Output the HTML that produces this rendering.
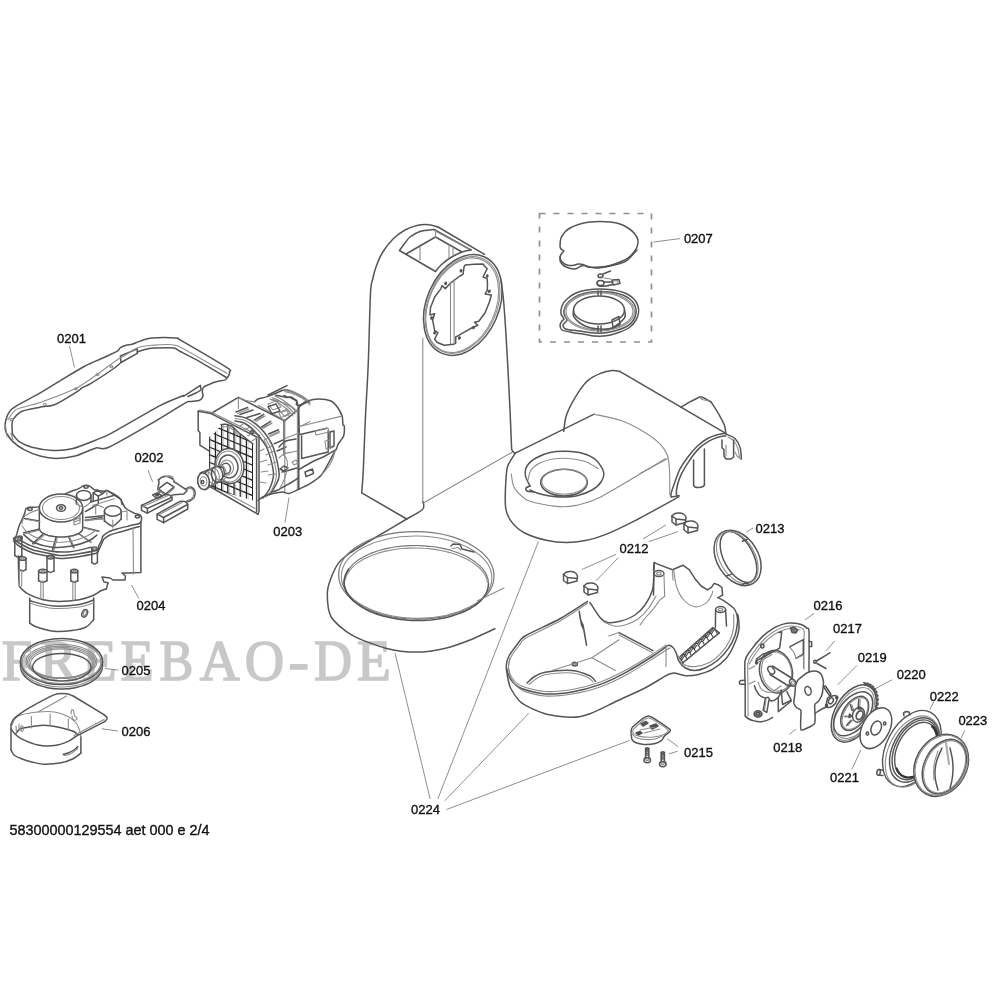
<!DOCTYPE html>
<html><head><meta charset="utf-8">
<style>
html,body{margin:0;padding:0;background:#fff;width:1000px;height:1000px;overflow:hidden}
svg{display:block;will-change:transform}
.lb{font-family:"Liberation Sans",sans-serif;font-size:13px;fill:#111;stroke:#111;stroke-width:0.35}
.wm{font-family:"Liberation Serif",serif;font-size:58px;fill:#c8c8c8;stroke:#c8c8c8;stroke-width:1.6;stroke-linejoin:miter}
.s{fill:none;stroke:#555;stroke-width:1.5;stroke-linejoin:round;stroke-linecap:round}
.t{fill:none;stroke:#8c8c8c;stroke-width:1.1;stroke-linejoin:round;stroke-linecap:round}
.k{fill:#333;stroke:none}
.ld{fill:none;stroke:#6a6a6a;stroke-width:0.75}
.dash{fill:none;stroke:#8f8f8f;stroke-width:1.7;stroke-dasharray:6 8}
</style></head><body>
<svg width="1000" height="1000" viewBox="0 0 1000 1000">

<g id="wm">
<text class="wm" transform="translate(1.8,680.3) scale(0.943,1)">F</text>
<text class="wm" transform="translate(40.1,680.3) scale(0.947,1)">R</text>
<text class="wm" transform="translate(82.0,680.3) scale(0.981,1)">E</text>
<text class="wm" transform="translate(120.5,680.3) scale(0.938,1)">E</text>
<text class="wm" transform="translate(159.6,680.3) scale(0.875,1)">B</text>
<text class="wm" transform="translate(199.7,680.3) scale(0.952,1)">A</text>
<text class="wm" transform="translate(244.7,680.3) scale(0.942,1)">O</text>
<text class="wm" transform="translate(288.5,680.3) scale(1.059,1)">-</text>
<text class="wm" transform="translate(314.1,680.3) scale(0.908,1)">D</text>
<text class="wm" transform="translate(357.0,680.3) scale(0.956,1)">E</text>
</g>
<g id="parts">
<g id="gasket">
<path d="M5.2 428.8 C5.3 430.6 5.4 431.3 6.4 433 C7.4 434.7 10.5 439.4 12.8 441.6 C15.1 443.8 20.4 447.7 24 449.6 C27.6 451.5 35.7 454.8 40 456 C44.3 457.2 51.3 458.4 56 458.4 C60.7 458.4 69.9 457.4 75.2 456 C80.5 454.6 91.5 449.2 96 448 C100.5 446.8 100.3 451.1 108.8 447.2 C117.3 443.3 149.8 424.3 160 418.4 C170.2 412.5 181.3 405.1 185.4 402.8 C189.5 400.5 188.7 401.8 190.6 401.5 C192.5 401.2 198 400.9 199.7 400.2 C201.4 399.5 202.7 397.5 203 396.3 C203.3 395.1 202.2 392.3 202.3 391.1 C202.4 389.9 202.7 388.1 203.6 387.2 C204.5 386.3 207.2 385.3 208.8 384.6 C210.4 383.9 213.2 382.6 215.3 382 C217.4 381.4 222.9 380.5 224.4 380.1 C225.9 379.7 225.8 379.5 226.4 378.8 C227 378.1 228.6 375.9 229 374.9 C229.4 373.9 229.7 372.6 229.4 371.6 C229.1 370.6 233.5 371.9 227 367.7 C220.5 363.5 187.7 344.3 180.9 340.4 C174.1 336.5 180.2 338.4 176.3 338.1 C172.4 337.8 156.5 337.7 151.6 338.1 C146.7 338.5 142.5 340.3 139.9 341.1 C137.3 341.9 133.8 343.8 132.1 344.3 C130.4 344.8 128.5 344.6 126.9 345 C125.3 345.4 121.6 346.8 120.4 347.6 C119.2 348.4 119.2 349.9 117.8 350.8 C116.4 351.7 113.6 353 110 354.7 C106.4 356.4 94.6 361.6 91 363.2 C87.4 364.8 87 364.8 83.2 367 C79.4 369.2 68.3 375.8 62.4 379.4 C56.5 383 44.7 390.4 39 393.7 C33.3 397 23.3 401.8 19.5 404.1 C15.7 406.4 12.2 408.5 10.4 410.6 C8.6 412.7 6.6 417.3 5.9 419.7 C5.2 422.1 5.1 427 5.2 428.8Z" class="s"/>
<path d="M12 433.6 C13 434.7 16.5 439.8 19.2 441.6 C21.9 443.4 27.5 446 32 447.2 C36.5 448.4 47.5 450.2 52.8 450.4 C58.1 450.6 66.2 450.2 72 448.8 C77.8 447.4 90.7 442.1 96 440 C101.3 437.9 103.5 437.4 112 432.8 C120.5 428.2 150.5 410.6 160 405.6 C169.5 400.6 180.4 396.8 183.5 395.5" class="s"/>
<path d="M183.5 396.3 L200.4 385.3 L201 389.8 L197 392.5 L188 396.5" class="s"/>
<path d="M12.5 434 C12.4 432.9 11.9 427.9 12 426 C12.1 424.1 11.7 421.7 13 419.7 C14.3 417.7 18.6 412.9 22.1 411.3 C25.6 409.7 35 408.2 39 407.4 C43 406.6 49.4 406 52 405.4 C54.6 404.8 55 404.7 58.5 402.8 C62 400.9 74.9 393.1 78 391.1 C81.1 389.1 80.2 388.9 81.9 387.9 C83.6 386.9 86.8 385.8 91 383.3 C95.2 380.8 109.1 371.8 113.1 369 C117.1 366.2 119.9 363.4 121 362.5" class="s"/>
<path d="M121 362.5 L120.4 356 L137.3 348.9 L137.3 353.4Z" class="s"/>
<path d="M137.3 352 C138.9 351.5 146.6 349.1 149 348.6 C151.4 348.1 151.7 348.1 155 348 C158.3 347.9 170.2 347.5 173.6 348 C177 348.5 176.7 349.7 180.2 351.5 C183.7 353.3 193.8 358.3 200 361.8 C206.2 365.3 222.9 375.4 226.4 377.5" class="s"/>
<path d="M7.8 419.7 C8.9 418.4 12.8 411.6 16 409.6 C19.2 407.6 28.9 405.7 32 404.8 C35.1 403.9 32.9 405.1 39 402.8 C45.1 400.5 67.6 392.9 78 387.2 C88.4 381.5 110.7 364.2 117 360 C123.3 355.8 122.3 357 125 355.4 C127.7 353.8 133.4 349.3 137 348 C140.6 346.7 146.9 345.7 152 345.3 C157.1 344.9 169 343.6 175.4 345.3 C181.8 347 193.1 354.4 200 358.2 C206.9 362 223.4 371.5 227 373.5" class="t"/>
<path d="M5.5 425 L7 437" class="t"/>
<path d="M11 433 L13 440" class="t"/>
<ellipse cx="44.9" cy="404.4" rx="1.4" ry="1.1" class="t"/>
<ellipse cx="75.8" cy="388.8" rx="1.4" ry="1.1" class="t"/>
<ellipse cx="97.5" cy="374.6" rx="1.4" ry="1.1" class="t"/>
<ellipse cx="111.4" cy="366.7" rx="1.4" ry="1.1" class="t"/>
<ellipse cx="11.4" cy="419.7" rx="1.4" ry="1.1" class="t"/>
</g>
<g id="gearbox">
<path d="M13.4 538.8 C13.1 538 15.5 537.5 16.2 536 C16.9 534.5 18 528.8 19 526.2 C20 523.6 23.8 515.6 24.6 513.6 C25.4 511.6 25.3 509.4 26 508.7 C26.7 508 28.6 507.5 30.2 507.3 C31.8 507.1 36.4 507.6 39.3 506.6 C42.2 505.6 51.7 500.6 55 499 C58.3 497.4 65.2 493.8 68 492.6 C70.8 491.4 77.4 489.2 79.2 488.4 C81 487.6 82.3 485.9 83.4 485.6 C84.5 485.3 87.7 485.1 89 485.6 C90.3 486.1 93 489.1 94.6 489.8 C96.2 490.5 101.4 491 103 491.2 C104.6 491.4 106.6 490.4 108.6 491.2 C110.6 492 117.8 496.2 119.8 498.2 C121.8 500.2 123.6 506.2 125.4 508 C127.2 509.8 133.6 512.8 135.3 513.6 C137 514.4 139.5 514.3 140.2 515 C140.9 515.7 141.7 518.2 141.6 519.2 C141.5 520.2 140.4 522.7 139.5 523.4 C138.6 524.1 136.4 524.1 133.8 524.8 C131.2 525.5 119.9 528.2 117 529 C114.1 529.8 110.2 531 108.6 531.8 C107 532.6 103.8 535 103 536 C102.2 537 102.1 539.1 101.6 540.2 C101.1 541.3 99.3 544.7 98.8 545.8 C98.3 546.9 99.6 549.1 97.4 550 C95.2 550.9 84.2 552.8 80 553.5 C75.8 554.2 64.5 555.6 61 555.6 C57.5 555.6 53.1 554.2 49.8 553.5 C46.5 552.8 36.6 551.2 33 550 C29.4 548.8 21.3 544.3 19 543 C16.7 541.7 13.7 539.6 13.4 538.8Z" class="s"/>
<path d="M13.4 541 C14.1 541.7 16.4 544.4 19 546 C21.6 547.6 28.9 551.6 33 553 C37.1 554.4 46.1 555.8 49.8 556.5 C53.5 557.2 57 558.6 61 558.6 C65 558.6 75.1 557.2 80 556.5 C84.9 555.8 95.1 553.5 97.4 553" class="s"/>
<path d="M97.4 553 C98 551.8 100.7 545.9 101.6 544 C102.5 542.1 102.9 540.2 104 539 C105.1 537.8 107.9 535.9 110 535 C112.1 534.1 116.8 532.9 120 532 C123.2 531.1 131.2 528.7 133.8 528 C136.4 527.3 138.7 526.6 139.5 526.4" class="s"/>
<path d="M18.3 556 L18.8 580 L19.5 586.4" class="s"/>
<path d="M19.5 586.4 C19.8 586.7 20.4 587.9 21.6 589 C22.8 590.1 25.9 593 28.8 594.4 C31.7 595.8 39.1 598.8 43.2 599.8 C47.3 600.8 54.7 601.6 59.5 601.6 C64.3 601.6 74.7 600.6 79.3 599.8 C83.9 599 90.8 596.5 93.7 595.3 C96.6 594.1 99.2 591.6 100.9 590.8 C102.6 590 105.6 589.2 106.3 589" class="s"/>
<path d="M106.3 589 L108.1 582.7 L104 582 L102 577 L110 578 L113 580 L125 580 L125.4 576 L122 573 L127 573 L140.9 572.4 L140.9 522" class="s"/>
<path d="M133 528 L133.5 574" class="t"/>
<path d="M29.7 598 L29.7 623.2" class="s"/>
<path d="M93.7 598 L93.7 619.6" class="s"/>
<path d="M29.7 623.2 C30.5 623.7 32.8 625.7 36 626.8 C39.2 627.9 49.2 630.8 54 631.3 C58.8 631.8 67.7 631.1 72 630.5 C76.3 629.9 83.5 628.3 86.4 626.8 C89.3 625.3 92.7 620.6 93.7 619.6" class="s"/>
<path d="M29.7 600 C30.1 600.2 29.2 600.8 32.4 601.6 C35.6 602.4 47.7 605.6 54 606 C60.3 606.4 74 605.3 79.3 604.5 C84.6 603.7 91.8 600.6 93.7 600" class="s"/>
<path d="M30 603 C31.3 603.4 36.8 605.3 40 606 C43.2 606.7 48.8 608.4 54 608.5 C59.2 608.6 74 607.7 79.3 607 C84.6 606.3 91.8 603.5 93.7 603" class="t"/>
<ellipse cx="84.7" cy="613.3" rx="2.6" ry="4" transform="rotate(25 84.7 613.3)" class="s"/>
<ellipse cx="84.9" cy="613.1" rx="1.4" ry="2.6" transform="rotate(25 84.9 613.1)" class="t"/>
<path d="M39.3 508 A21.7 14 0 0 1 82.7 508 L82.7 528.5 A21.7 8.5 0 0 1 39.3 528.5 Z" style="fill:#fff;stroke:none"/>
<ellipse cx="61" cy="508" rx="21.7" ry="14" class="s"/>
<ellipse cx="61" cy="508" rx="18.5" ry="11.5" class="t"/>
<path d="M39.3 508 L39.3 530" class="s"/>
<path d="M82.7 508 L82.7 528" class="s"/>
<path d="M82.7 528.5 C82.7 528.7 82.6 529.4 82.4 529.8 C82.3 530.3 82 530.7 81.6 531.1 C81.3 531.5 80.8 532 80.3 532.4 C79.8 532.8 79.2 533.1 78.6 533.5 C77.9 533.9 77.1 534.2 76.3 534.5 C75.5 534.8 74.7 535.1 73.8 535.4 C72.8 535.6 71.9 535.9 70.9 536.1 C69.8 536.3 68.8 536.4 67.7 536.6 C66.6 536.7 65.5 536.8 64.4 536.9 C63.3 537 62.1 537 61 537 C59.9 537 58.7 537 57.6 536.9 C56.5 536.8 55.4 536.7 54.3 536.6 C53.2 536.4 52.2 536.3 51.1 536.1 C50.1 535.9 49.2 535.6 48.2 535.4 C47.3 535.1 46.5 534.8 45.7 534.5 C44.9 534.2 44.1 533.9 43.4 533.5 C42.8 533.1 42.2 532.8 41.7 532.4 C41.2 532 40.7 531.5 40.4 531.1 C40 530.7 39.7 530.3 39.6 529.8 C39.4 529.4 39.3 528.7 39.3 528.5" class="s"/>
<ellipse cx="61" cy="508" rx="4.5" ry="3.3" class="s"/>
<ellipse cx="61" cy="508" rx="1.8" ry="1.3" class="s"/>
<path d="M74 518 L80 516 L80 523 L74 525 L74 518" class="t"/>
<path d="M74 520 L80 518 L80 520 L74 522" class="t"/>
<path d="M39 521 L24.6 518.4" class="s"/>
<path d="M40.2 521.8 L25.8 519.2" class="t"/>
<path d="M39 529.2 L23.7 532.8" class="s"/>
<path d="M40.2 530 L24.9 533.6" class="t"/>
<path d="M42.6 534.6 L32.7 543.6" class="s"/>
<path d="M43.8 535.4 L33.9 544.4" class="t"/>
<path d="M56.1 537.3 L52.5 550" class="s"/>
<path d="M57.3 538.1 L53.7 550.8" class="t"/>
<path d="M68.8 537.3 L73.3 547.2" class="s"/>
<path d="M70 538.1 L74.5 548" class="t"/>
<path d="M78.7 533.7 L90.4 541.8" class="s"/>
<path d="M79.9 534.5 L91.6 542.6" class="t"/>
<path d="M84 527.4 L98.5 531" class="s"/>
<path d="M85.2 528.2 L99.7 531.8" class="t"/>
<path d="M85 520.2 L102 517.5" class="s"/>
<path d="M86.2 521 L103.2 518.3" class="t"/>
<path d="M23.7 534.6 C25.5 536 29.7 540.6 34.5 542.7 C39.3 544.8 46.5 546.6 52.5 547.2 C58.5 547.8 64.5 547.3 70.5 546.3 C76.5 545.3 84.1 542.9 88.5 541 C92.9 539.1 95.6 536 97 535" class="s"/>
<path d="M22 526 C23 527.2 25 530.8 28 533 C31 535.2 35.5 537.5 40 539 C44.5 540.5 50 541.6 55 542 C60 542.4 65 542.3 70 541.5 C75 540.7 80.8 538.8 85 537 C89.2 535.2 93.3 532 95 531" class="t"/>
<path d="M17.4 538.2 C19.5 539.4 24.6 543.3 30 545.4 C35.4 547.5 43.2 549.8 49.8 550.9 C56.4 552 62.8 552.4 69.7 551.8 C76.6 551.2 87.7 548 91.3 547.2" class="s"/>
<path d="M21.9 523.8 C22.2 522.8 22.9 519 23.7 517.5 C24.4 516 24.8 516 26.4 515 C27.9 514 31.1 512.3 33 511.5 C34.9 510.7 37.2 510.2 38 510" class="t"/>
<ellipse cx="83.7" cy="495.4" rx="7.3" ry="5" class="s"/>
<path d="M76.4 495.4 L76.4 504" class="s"/>
<path d="M91 495.4 L91 502" class="s"/>
<path d="M76.4 504 C77.4 504.4 81.8 507.3 83.7 507 C85.6 506.7 90 502.7 91 502" class="t"/>
<ellipse cx="112.8" cy="511" rx="8.4" ry="5.2" class="s"/>
<path d="M104.4 511 L104.4 521" class="s"/>
<path d="M121.2 511 L121.2 519" class="s"/>
<path d="M104.4 521 C105.5 521.7 110.6 526.3 112.8 526 C115 525.7 120.1 519.9 121.2 519" class="s"/>
<path d="M112.8 520 L112.8 528" class="t"/>
<path d="M93.2 492.8 L97.4 490.2 L102.5 493.6 L98.3 496.2Z" class="s"/>
<path d="M93.2 492.8 L93.2 501.3" class="s"/>
<path d="M98.3 496.2 L98.3 503.8" class="s"/>
<path d="M90.6 502.1 L114.4 495.3" class="s"/>
<path d="M92.3 505.5 L114.4 498.7" class="t"/>
<path d="M102.5 493.6 L106.8 490.2 L121.2 499.6 L122 504.7" class="s"/>
<path d="M106.8 490.2 L106.8 495" class="t"/>
<path d="M85.5 511.5 L97.4 504.7" class="s"/>
<path d="M85.5 517.4 L103.4 515.7" class="s"/>
<path d="M85.5 520 L103.4 519.1" class="t"/>
<path d="M95.7 505.5 L95.7 514" class="t"/>
<path d="M97.4 504.7 L103.4 507.5" class="t"/>
<path d="M121.2 512 L127 511 L127 520" class="t"/>
<ellipse cx="86" cy="486.8" rx="2.2" ry="1.4" class="s"/>
<ellipse cx="137.4" cy="516.6" rx="2.2" ry="1.4" class="s"/>
<ellipse cx="20" cy="537.5" rx="2.2" ry="1.4" class="s"/>
<ellipse cx="30" cy="509" rx="2.2" ry="1.4" class="s"/>
<ellipse cx="18.3" cy="538.9" rx="3.5" ry="1.8" class="s"/>
<ellipse cx="18.3" cy="538.9" rx="1.6" ry="0.8" class="t"/>
<path d="M14.8 538.9 L14.8 555.6" class="s"/>
<path d="M21.8 538.9 L21.8 555.6" class="s"/>
<path d="M14.8 555.6 C15.4 555.9 17.1 557.1 18.3 557.1 C19.5 557.1 21.2 555.9 21.8 555.6" class="s"/>
<ellipse cx="22.5" cy="558.5" rx="3.5" ry="1.8" class="s"/>
<ellipse cx="22.5" cy="558.5" rx="1.6" ry="0.8" class="t"/>
<path d="M19 558.5 L19 569.6" class="s"/>
<path d="M26 558.5 L26 569.6" class="s"/>
<path d="M19 569.6 C19.6 569.9 21.3 571.1 22.5 571.1 C23.7 571.1 25.4 569.9 26 569.6" class="s"/>
<ellipse cx="42.8" cy="571.1" rx="4.2" ry="1.8" class="s"/>
<ellipse cx="42.8" cy="571.1" rx="1.9" ry="0.8" class="t"/>
<path d="M38.6 571.1 L38.6 580.8" class="s"/>
<path d="M47 571.1 L47 580.8" class="s"/>
<path d="M38.6 580.8 C39.3 581 41.4 582.3 42.8 582.3 C44.2 582.3 46.3 581 47 580.8" class="s"/>
<ellipse cx="74.3" cy="571.1" rx="3.5" ry="1.8" class="s"/>
<ellipse cx="74.3" cy="571.1" rx="1.6" ry="0.8" class="t"/>
<path d="M70.8 571.1 L70.8 580.8" class="s"/>
<path d="M77.8 571.1 L77.8 580.8" class="s"/>
<path d="M70.8 580.8 C71.4 581 73.1 582.3 74.3 582.3 C75.5 582.3 77.2 581 77.8 580.8" class="s"/>
<ellipse cx="50.5" cy="557.1" rx="3.5" ry="1.8" class="s"/>
<ellipse cx="50.5" cy="557.1" rx="1.6" ry="0.8" class="t"/>
<path d="M47 557.1 L47 571" class="s"/>
<path d="M54 557.1 L54 571" class="s"/>
<path d="M47 571 C47.6 571.2 49.3 572.5 50.5 572.5 C51.7 572.5 53.4 571.2 54 571" class="s"/>
<ellipse cx="94.6" cy="548.7" rx="2.8" ry="1.8" class="s"/>
<ellipse cx="94.6" cy="548.7" rx="1.3" ry="0.8" class="t"/>
<path d="M91.8 548.7 L91.8 562.6" class="s"/>
<path d="M97.4 548.7 L97.4 562.6" class="s"/>
<path d="M91.8 562.6 C92.3 562.9 93.7 564.1 94.6 564.1 C95.5 564.1 96.9 562.9 97.4 562.6" class="s"/>
<path d="M19.3 569.6 L19.3 586" class="t"/>
<path d="M21.7 569.6 L21.7 586" class="t"/>
<path d="M40.8 580.8 L40.8 598.5" class="t"/>
<path d="M43.2 580.8 L43.2 598.5" class="t"/>
<path d="M72.8 580.8 L72.8 600" class="t"/>
<path d="M75.2 580.8 L75.2 600" class="t"/>
</g>
<g id="ring205">
<ellipse cx="61.5" cy="661.5" rx="41" ry="23" class="s"/>
<ellipse cx="61.5" cy="662" rx="39.5" ry="21.5" class="t"/>
<path d="M102.5 666 C102.4 666.5 102.4 668 102.1 669 C101.9 670 101.6 671 101.1 672 C100.6 672.9 100.1 673.9 99.4 674.8 C98.7 675.7 97.9 676.6 97 677.5 C96.1 678.4 95.1 679.2 94 680 C92.9 680.8 91.8 681.6 90.5 682.3 C89.2 683 87.9 683.6 86.5 684.2 C85 684.9 83.5 685.4 82 685.9 C80.5 686.4 78.8 686.9 77.2 687.2 C75.5 687.6 73.8 688 72.1 688.2 C70.4 688.5 68.6 688.7 66.9 688.8 C65.1 688.9 63.3 689 61.5 689 C59.7 689 57.9 688.9 56.1 688.8 C54.4 688.7 52.6 688.5 50.9 688.2 C49.2 688 47.5 687.6 45.8 687.2 C44.2 686.9 42.5 686.4 41 685.9 C39.5 685.4 38 684.9 36.5 684.2 C35.1 683.6 33.8 683 32.5 682.3 C31.2 681.6 30.1 680.8 29 680 C27.9 679.2 26.9 678.4 26 677.5 C25.1 676.6 24.3 675.7 23.6 674.8 C22.9 673.9 22.4 672.9 21.9 672 C21.4 671 21.1 670 20.9 669 C20.6 668 20.6 666.5 20.5 666" class="s"/>
<path d="M102.3 666 C102.2 666.5 101.9 667.9 101.6 668.8 C101.2 669.7 100.8 670.7 100.2 671.6 C99.7 672.4 99 673.3 98.3 674.2 C97.5 675 96.7 675.8 95.8 676.6 C94.8 677.4 93.8 678.2 92.7 678.9 C91.6 679.6 90.4 680.3 89.2 681 C88 681.6 86.6 682.2 85.3 682.7 C83.9 683.3 82.4 683.8 81 684.2 C79.5 684.7 77.9 685.1 76.4 685.4 C74.8 685.8 73.2 686.1 71.5 686.3 C69.9 686.5 68.2 686.7 66.6 686.8 C64.9 686.9 63.2 687 61.5 687 C59.8 687 58.1 686.9 56.4 686.8 C54.8 686.7 53.1 686.5 51.5 686.3 C49.8 686.1 48.2 685.8 46.6 685.4 C45.1 685.1 43.5 684.7 42 684.2 C40.6 683.8 39.1 683.3 37.7 682.7 C36.4 682.2 35 681.6 33.8 681 C32.6 680.3 31.4 679.6 30.3 678.9 C29.2 678.2 28.2 677.4 27.2 676.6 C26.3 675.8 25.5 675 24.7 674.2 C24 673.3 23.3 672.4 22.8 671.6 C22.2 670.7 21.8 669.7 21.4 668.8 C21.1 667.9 20.8 666.5 20.7 666" class="t"/>
<path d="M20.5 661.5 L20.5 666" class="s"/>
<path d="M102.5 661.5 L102.5 666" class="s"/>
<ellipse cx="61.5" cy="661.5" rx="35.5" ry="17" class="t"/>
<ellipse cx="61.5" cy="662.1" rx="34" ry="16" class="t"/>
<ellipse cx="61.5" cy="662.7" rx="32.5" ry="15.2" class="t"/>
<ellipse cx="61.5" cy="663.5" rx="31" ry="14.6" class="t"/>
<ellipse cx="61.8" cy="667.2" rx="29.2" ry="13.8" class="s"/>
</g>
<g id="guard206">
<path d="M11 724.6 L11 750" class="s"/>
<path d="M80.9 736.7 L80.9 753.2" class="s"/>
<path d="M11 750 C11.4 750.7 12.6 753.8 14 755 C15.4 756.2 19.1 757.8 21.5 758.7 C23.9 759.6 29.1 761.3 32 762 C34.9 762.7 39.8 764.1 43.5 764.2 C47.2 764.3 56 763.8 60 763.1 C64 762.4 70.4 760 73.2 758.7 C76 757.4 79.9 753.9 80.9 753.2" class="s"/>
<path d="M11 729 C11.5 729.7 13.6 732.7 15 734 C16.4 735.3 18.4 737.4 21.5 738.9 C24.6 740.4 33.6 744.1 38 745 C42.4 745.9 50.4 746 54.5 745.5 C58.6 745 66 742.3 68.8 741.1 C71.6 739.9 74.5 737.3 75.4 736.7" class="s"/>
<path d="M16 733.4 C16.5 732.8 18.5 729.8 20 729 C21.5 728.2 23.9 727.9 27 727.4 C30.1 726.9 39.1 725.2 43.5 725.2 C47.9 725.2 56 726.6 60 727.4 C64 728.2 70.9 730.3 73.2 731.2 C75.5 732.1 77 734.1 77.6 734.5" class="s"/>
<path d="M11.6 725.7 C12.1 724.8 13.7 720.5 15 719 C16.3 717.5 18.4 715.6 21.5 714.7 C24.6 713.8 33.6 712.4 38 712 C42.4 711.6 50.4 711.3 54.5 712 C58.6 712.7 65.9 715.4 68.8 716.9 C71.7 718.4 75 721.6 76.5 723.5 C78 725.4 79.2 729.4 79.8 731.2 C80.4 733 80.8 736 80.9 736.7" class="t"/>
<path d="M11 724.6 C11.3 724 12.3 721 13 720 C13.7 719 14.1 718.3 16 716.9 C17.9 715.5 22.6 711.8 27 709.2 C31.4 706.6 44.9 699.2 49 697.1 C53.1 695 55.5 694.2 57.8 693.8 C60.1 693.4 64.5 693.5 66.6 693.8 C68.7 694.1 72.3 695.7 73.2 696" class="s"/>
<path d="M73.2 696 L104 714.7" class="s"/>
<path d="M104 714.7 C104.5 715.2 107.1 716.9 107.3 718 C107.5 719.1 105.5 720.8 105.1 721.3" class="s"/>
<path d="M105.1 721.3 L75.4 736.7" class="s"/>
<path d="M104 719.5 L74 735.5" class="t"/>
<path d="M38 712 L66.6 696" class="t"/>
<path d="M63.3 754.3 C64.1 754.1 66.2 753.7 68 753 C69.8 752.3 72.4 751.1 74 750 C75.6 748.9 77 747.2 77.6 746.6" class="s"/>
<path d="M64 755.5 C65 755.2 68 754.9 70 754 C72 753.1 74.7 751 76 750 C77.3 749 77.7 748.3 78 748" class="t"/>
<path d="M31.4 716.5 L31.4 728" class="t"/>
<path d="M50.1 714 L50.1 726" class="t"/>
<path d="M68.3 719 L68.3 730" class="t"/>
<path d="M71 714 C71.1 713.4 71.2 711.2 71.5 710.5 C71.8 709.8 72.6 709.6 73 710 C73.4 710.4 73.8 712 74 713 C74.2 714 74 715.2 74.5 716 C75 716.8 76.8 717.3 77 718 C77.2 718.7 76.7 719.8 76 720 C75.3 720.2 73.7 720.2 73 719.5 C72.3 718.8 72.2 716.6 72 716" class="t"/>
<path d="M16 726 L16.5 733" class="t"/>
<ellipse cx="22" cy="728.5" rx="1.4" ry="2.8" class="t"/>
<path d="M19 724 L19 730" class="t"/>
</g>
<g id="motor">
<path d="M211 413.5 L238.4 397.3 L284 420.7 L284 455" class="s"/>
<path d="M238.4 397.3 L238.4 408.5" class="t"/>
<path d="M198.2 411.3 L198.2 430.5 L199.9 432.6 L199.9 445.2 L209 450.8" class="s"/>
<path d="M198.2 411.3 L200 410 L211.5 412.3 L259 435.5" class="t"/>
<path d="M198.2 411.3 L211.1 413.6 L256.6 437" class="s"/>
<path d="M256.6 436.8 L256.6 512" class="s"/>
<path d="M259 435.2 L259 511.5 L258 514.3" class="s"/>
<path d="M209 486 L258 514.3" class="s"/>
<path d="M211 484.5 L255 508.5" class="t"/>
<clipPath id="gclip"><path d="M209 437 L215 432.5 L221 424.5 L226 424.3 L232 426.5 L238 432 L246 438.5 L253 444 L253 500.5 L209 487.5 Z"/></clipPath>
<path d="M209.2 420 L209.2 510 M215.4 420 L215.4 510 M221.6 420 L221.6 510 M227.8 420 L227.8 510 M234.0 420 L234.0 510 M240.2 420 L240.2 510 M246.4 420 L246.4 510 M252.6 420 L252.6 510 M205 414.8 L256 436.2 M205 422.4 L256 443.8 M205 430.0 L256 451.4 M205 437.6 L256 459.0 M205 445.2 L256 466.6 M205 452.8 L256 474.2 M205 460.4 L256 481.8 M205 468.0 L256 489.4 M205 475.6 L256 497.0 M205 483.2 L256 504.6 M205 490.8 L256 512.2 M205 498.4 L256 519.8 M205 506.0 L256 527.4 M205 513.6 L256 535.0" fill="none" stroke="#222" stroke-width="1.25" clip-path="url(#gclip)"/>
<path d="M210.8 420 L210.8 510 M217.0 420 L217.0 510 M223.2 420 L223.2 510 M229.4 420 L229.4 510 M235.6 420 L235.6 510 M241.8 420 L241.8 510 M248.0 420 L248.0 510 M254.2 420 L254.2 510" fill="none" stroke="#999" stroke-width="0.6" clip-path="url(#gclip)"/>
<path d="M221 424.5 C221.8 424.5 224.2 424 226 424.3 C227.8 424.6 230 425.2 232 426.5 C234 427.8 235.7 430 238 432 C240.3 434 243.5 436.5 246 438.5 C248.5 440.5 251.8 443.1 253 444" class="s"/>
<path d="M221.5 427 C222.2 427 224.2 426.5 226 426.8 C227.8 427.1 230 427.7 232 429 C234 430.3 237 433.6 238 434.5" class="t"/>
<ellipse cx="229.5" cy="466" rx="14.3" ry="17.6" transform="rotate(-10 229.5 466)" class="s" style="fill:#fff"/>
<ellipse cx="229" cy="466.5" rx="12.5" ry="15.5" transform="rotate(-10 229 466.5)" class="t"/>
<ellipse cx="228.5" cy="466.5" rx="9.5" ry="11.5" transform="rotate(-10 228.5 466.5)" class="s" style="fill:#fff"/>
<ellipse cx="227" cy="467.5" rx="6.5" ry="7.5" transform="rotate(-10 227 467.5)" class="t"/>
<ellipse cx="226" cy="468.5" rx="4.5" ry="5.2" transform="rotate(-10 226 468.5)" class="s" style="fill:#fff"/>
<path d="M200.3 473 L217.5 466.3 L223.5 468 L224.5 474 L222 479 L205.5 489.5Z" class="s" style="fill:#fff"/>
<ellipse cx="203.5" cy="481.3" rx="5.6" ry="8.2" transform="rotate(-8 203.5 481.3)" class="s" style="fill:#fff"/>
<ellipse cx="206.9" cy="479.6" rx="5.6" ry="8.2" transform="rotate(-8 206.9 479.6)" class="t"/>
<ellipse cx="210.3" cy="477.9" rx="5.6" ry="8.2" transform="rotate(-8 210.3 477.9)" class="s"/>
<ellipse cx="213.7" cy="476.2" rx="5.6" ry="8.2" transform="rotate(-8 213.7 476.2)" class="t"/>
<ellipse cx="217.1" cy="474.5" rx="5.6" ry="8.2" transform="rotate(-8 217.1 474.5)" class="s"/>
<ellipse cx="220.5" cy="472.8" rx="5.6" ry="8.2" transform="rotate(-8 220.5 472.8)" class="t"/>
<ellipse cx="203.5" cy="481.3" rx="5.8" ry="8.3" transform="rotate(-8 203.5 481.3)" class="s" style="fill:#fff"/>
<ellipse cx="202.5" cy="482" rx="1.3" ry="1.6" class="s"/>
<ellipse cx="203.5" cy="481.3" rx="3.3" ry="4.6" transform="rotate(-8 203.5 481.3)" class="t"/>
<path d="M236 412 L247.6 407.5" class="s"/>
<path d="M240 414.5 L253 410" class="s"/>
<path d="M247 417.5 L260 413.5" class="s"/>
<path d="M254.6 420 L263.7 414.4" class="s"/>
<path d="M261.6 427 L270.7 421.4" class="s"/>
<path d="M268.6 434 L278.4 429.8" class="s"/>
<path d="M274.2 443.8 L284 439.6" class="s"/>
<path d="M277 451 L286 447" class="s"/>
<path d="M237.5 413.5 L249 409" class="t"/>
<path d="M256 421.5 L265 416" class="t"/>
<path d="M263 428.5 L272 423" class="t"/>
<path d="M270 435.5 L279.5 431.3" class="t"/>
<path d="M235 415.8 C236.8 416.1 242 416.5 245.5 417.9 C249 419.3 252.8 421.8 256 424.2 C259.1 426.6 261.8 429.5 264.4 432.6 C267 435.8 269.5 439.4 271.4 443.1 C273.3 446.8 274.3 449.6 275.6 455 C276.9 460.4 279.3 470 279.2 475.2 C279.1 480.4 276.6 483.1 275 486.4 C273.4 489.7 270.3 493.4 269.4 494.8" class="s"/>
<path d="M235 418.5 C236.7 418.8 241.7 419.1 245 420.5 C248.3 421.9 252.1 424.6 255 427 C257.9 429.4 260.2 432 262.5 435 C264.8 438 267.2 441.5 269 445 C270.8 448.5 271.8 451 273 456 C274.2 461 276.5 469.7 276.4 475.2 C276.3 480.7 273.9 485.6 272.2 489.2 C270.5 492.8 267 495.7 266 497" class="t"/>
<path d="M235 421 C236.5 421.3 241 421.6 244 423 C247 424.4 250.3 427.1 253 429.5 C255.7 431.9 257.8 434.6 260 437.5 C262.2 440.4 264.8 443.6 266.5 447 C268.2 450.4 269.3 453.3 270.5 458 C271.7 462.7 273.7 469.8 273.5 475 C273.3 480.2 271.2 485.2 269.5 489 C267.8 492.8 264.1 496.5 263 498" class="s"/>
<path d="M240 426 L244 423.5" class="t"/>
<path d="M243 431 L249 427.5" class="t"/>
<path d="M248 436 L254 432" class="t"/>
<path d="M252 441 L258 437" class="t"/>
<path d="M258 452 L264 449" class="t"/>
<path d="M260 462 L267 460" class="t"/>
<path d="M261 472 L268 471" class="t"/>
<path d="M259 482 L266 483" class="t"/>
<path d="M250 432 L252 430 L254 432 L252 434Z" class="s"/>
<path d="M254.6 401.8 C255.2 401.3 256.1 399.8 258.1 399 C260.1 398.2 263.4 397.9 266.5 396.9 C269.6 395.8 274.1 393.9 277 392.7 C279.9 391.5 281.9 390.2 284 389.9 C286.1 389.5 287.3 389.8 289.6 390.6 C291.9 391.4 295.4 393.4 298 394.8 C300.6 396.2 303.8 398.3 305 399" class="s"/>
<path d="M268 395 L287 385.6" class="s" stroke-width="1.6"/>
<path d="M284 395.5 L288.2 397.6 L291 396.9 L296.6 400.4 L296.6 403.9 L299.4 406 L305 403.2" class="s"/>
<path d="M258.1 405.3 L285.4 420.7" class="t"/>
<path d="M284 421.4 L298 409.5" class="s"/>
<path d="M298 408.1 L299.4 434" class="s"/>
<path d="M270 399 C270.8 399.3 273.3 400.2 275 401 C276.7 401.8 277.8 402.5 280 404 C282.2 405.5 285.8 408 288 410 C290.2 412 292.2 415 293 416" class="t"/>
<path d="M272 397.5 C273 397.9 276 398.9 278 400 C280 401.1 282 402.5 284 404 C286 405.5 288.2 407.3 290 409 C291.8 410.7 294.2 413.2 295 414" class="t"/>
<path d="M275 396 C276 396.5 279 397.8 281 399 C283 400.2 285.2 401.7 287 403 C288.8 404.3 291.2 406.3 292 407" class="t"/>
<path d="M268 404 L276 401 L281 407 L273 410Z" class="t"/>
<path d="M281 412 L287 409 L290 413 L284 416Z" class="t"/>
<path d="M298.8 408 C299.2 407.5 300.9 404.9 302 404 C303.1 403.1 305 401.7 307.2 401 C309.4 400.3 315.2 398.9 318.4 398.9 C321.6 398.9 328.4 399.8 331 401 C333.6 402.2 336.5 405.9 338 408 C339.5 410.1 341.5 414.2 342.2 416.4 C342.9 418.6 342.7 423.5 343 424.8 C343.3 426.1 344.2 424.7 344.3 426.2 C344.4 427.7 344.4 433.6 343.6 436 C342.8 438.4 338.9 442.7 338 444.4 C337.1 446.1 337.2 447.5 336.6 448.6 C336 449.7 334.7 451.1 333.8 452.8 C332.9 454.5 331.3 458.2 329.6 461.2 C327.9 464.2 323.8 472.2 321.2 475.2 C318.6 478.2 313 481.7 310 483.6 C307 485.5 300.3 488.5 298.8 489.2" class="s"/>
<path d="M298.8 408 L298.8 489.2" class="s"/>
<path d="M300.2 426.2 L340.8 416.4" class="t"/>
<path d="M300.2 434.6 L326.8 428.3" class="s"/>
<path d="M301.6 436 L301.6 458.4 L328.2 452 L328.2 430.5" class="s"/>
<path d="M315 431 L328 428 L329 432 L316 435Z" class="t"/>
<path d="M330 432 L334 431 L334 446 L330 448Z" class="s"/>
<path d="M325 441 L330 440 L331 448 L326 449Z" class="t"/>
<path d="M298.8 469.6 C301 468.3 307.6 464.3 312 462 C316.4 459.7 321.1 458 325 456 C328.9 454 333.5 451 335.2 450" class="s"/>
<path d="M335.2 450 C334.8 451.3 334 455.3 333 458 C332 460.7 331 463.1 329 466 C327 468.9 322.5 473.7 321.2 475.2" class="t"/>
<path d="M305 472 L312.5 469 L313.5 473.5 L306 476.6Z" class="s"/>
<path d="M284.8 419.2 L284.8 492" class="t"/>
<path d="M297.4 408 L297.4 489.2" class="t"/>
<path d="M279 447 C279.8 446.2 282.2 443.2 284 442 C285.8 440.8 288 440.5 290 440 C292 439.5 295 439.2 296 439" class="s"/>
<path d="M279 458 C279.8 457.3 281.8 455 284 454 C286.2 453 289.7 452.5 292 452 C294.3 451.5 297 451.2 298 451" class="t"/>
<path d="M280 469 L284 466 L288 468 L284 471Z" class="s"/>
<path d="M292 462 L296 460 L298 463 L294 465Z" class="t"/>
<path d="M282 472 C283.3 471.7 287.5 470.7 290 470 C292.5 469.3 295.8 468.3 297 468" class="s"/>
<path d="M272 492 C273 491.7 275.8 491 278 490 C280.2 489 282.7 487.3 285 486 C287.3 484.7 289.8 483.3 292 482 C294.2 480.7 297 478.7 298 478" class="s"/>
<path d="M268 494.8 C270.3 494.3 278.5 492.2 282 492 C285.5 491.8 286.2 493.9 289 493.4 C291.8 492.9 297.2 489.9 298.8 489.2" class="s"/>
<path d="M258.2 500.4 C258.8 499.9 260.4 498.4 262 497.5 C263.6 496.6 267 495.2 268 494.8" class="s"/>
<path d="M284 455 C284.5 455.8 286.5 457.5 287 460 C287.5 462.5 287.5 466.7 287 470 C286.5 473.3 285.2 477 284 480 C282.8 483 280.7 486.7 280 488" class="t"/>
<path d="M284.8 389.2 C286 389.5 289.3 390 292 391 C294.7 392 298.5 393.8 301 395.2 C303.5 396.6 305.5 398.2 307 399.4 C308.5 400.6 309.5 401.9 310 402.4" class="t"/>
<path d="M284.8 390.4 C286 390.7 289.3 391.2 292 392.2 C294.7 393.2 298.5 395 301 396.4 C303.5 397.8 305.5 399.4 307 400.6 C308.5 401.8 309.5 403.1 310 403.6" class="t"/>
<path d="M284.8 391.6 C286 391.9 289.3 392.4 292 393.4 C294.7 394.4 298.5 396.2 301 397.6 C303.5 399 305.5 400.6 307 401.8 C308.5 403 309.5 404.3 310 404.8" class="t"/>
<path d="M275.8 395.2 L287.2 397.6 L289.6 397 L296.8 401.2 L297.4 403 L296.2 404.2 L298 406 L308.8 401.2" class="s"/>
<path d="M270.4 399.4 C272.2 399.8 277.7 400.9 281 402 C284.3 403.1 287.7 404.5 290 406 C292.3 407.5 294.2 410 295 410.8" class="t"/>
<path d="M271.9 399.7 C273.7 400.2 279.2 401.4 282.5 402.6 C285.8 403.8 289.2 405.3 291.5 406.8 C293.8 408.3 295.4 410.8 296.2 411.6" class="t"/>
<path d="M273.4 400 C275.2 400.5 280.7 401.9 284 403.2 C287.3 404.5 290.8 406.1 293 407.6 C295.2 409.1 296.7 411.6 297.4 412.4" class="t"/>
<path d="M268 406.6 L276 404 L280 411 L272 413.8Z" class="s"/>
<path d="M279 413 L287 410.5 L289 415 L281 417.5Z" class="t"/>
<path d="M299.2 427 L310 421.6" class="t"/>
<path d="M283.6 439 L299 433" class="t"/>
<path d="M254.1 420.6 L263.7 416.4" class="t"/>
<path d="M261.9 427.8 L271.5 423.6" class="t"/>
<path d="M269.7 436.8 L279.3 432.6" class="t"/>
<path d="M266 455 L274 451" class="t"/>
<path d="M268 465 L276 462" class="t"/>
<path d="M268 475 L276 474" class="t"/>
<path d="M264 440 L268 438 L272 446 L268 448Z" class="t"/>
<path d="M240 398 C241 398.4 243.6 399.9 246 400.5 C248.4 401.1 253.2 401.6 254.6 401.8" class="t"/>
</g>
<g id="brushes">
<path d="M158.4 479.8 C159.3 479.2 161.8 476.9 163.6 476.5 C165.4 476.1 167.9 476.6 169.5 477.2 C171.1 477.8 172.7 479.1 173.4 479.8 C174.2 480.6 173.9 481.4 174 481.7" class="s"/>
<path d="M174 481.7 L185 488.9 L187 490.8 L183.8 494 L174 494.7 L171.4 495.4" class="s"/>
<path d="M158.4 479.8 C158.5 480.3 159.1 481.5 159 483 C158.9 484.5 157.7 487.3 157.8 488.9 C157.9 490.5 159.4 492.1 159.7 492.8" class="s"/>
<path d="M158.4 488.9 L166.9 482.4 L174 486.9 L165.6 494 L158.4 488.9" class="s"/>
<path d="M158.4 488.9 L158.6 490.5 L165.6 495.5 L174 488.5 L174 486.9" class="t"/>
<path d="M152.6 495 L157.1 492.8 L162.3 496 L157.1 498.6Z" class="s"/>
<ellipse cx="157.1" cy="494.8" rx="1.4" ry="1.1" class="s" style="fill:#333"/>
<path d="M164.3 477.2 C165.1 477 167.4 475.9 168.8 475.9 C170.2 475.9 171.8 476.3 172.7 477.2 C173.6 478.1 173.8 480.4 174 481" class="t"/>
<path d="M185.7 488.9 C186.5 488.6 188.8 486.6 190.3 486.9 C191.8 487.2 194.2 489.1 194.8 490.8 C195.5 492.5 194.9 495.7 194.2 497.3 C193.4 498.9 191.6 499.8 190.3 500.6 C189 501.4 187.1 501.7 186.4 501.9" class="s"/>
<path d="M186.7 489.6 C187.3 489.4 189.2 487.9 190.3 488.2 C191.4 488.5 193.1 489.8 193.5 491.3 C193.9 492.8 193.6 495.6 193 497 C192.4 498.4 191.1 499 190 499.6 C188.9 500.2 187 500.7 186.4 500.9" class="t"/>
<path d="M141.5 505.4 L166 494 L170.1 495.4 L172 497.3 L172 500 L147.4 513.2 L141.5 510.3Z" class="s"/>
<path d="M141.5 505.4 L147.4 508.4 L172 497.3" class="s"/>
<path d="M147.4 508.4 L147.4 513.2" class="s"/>
<path d="M143 506.5 L168 495.5" class="t"/>
<path d="M157.1 514.2 L180.5 501.2 L185 501.5 L187.7 504 L187.7 509 L163.6 522.7 L157.1 519.4Z" class="s"/>
<path d="M157.1 514.2 L163.6 517.5 L187.7 504.5" class="s"/>
<path d="M163.6 517.5 L163.6 522.7" class="s"/>
<path d="M159 514.8 L182 502.5" class="t"/>
</g>
<g id="column">
<path d="M361.7 492.8 C361.9 489.4 362.8 480.9 363.3 470 C363.8 459.1 364.6 435.8 365.3 420 C366 404.2 367.4 384.1 368.2 365 C369 345.9 369.8 306.1 370.5 293 C371.2 279.9 372.2 281.9 373 278 C373.8 274.1 374.6 270.8 376 267 C377.4 263.2 379.9 256.7 382.5 252.5 C385.1 248.3 389.6 242.4 393 239 C396.4 235.6 401.4 232 405 230 C408.6 228 413.4 226.3 417 225.5 C420.6 224.7 425.9 224.5 429 224.8 C432.1 225 436.6 226.7 438 227" class="s"/>
<path d="M438 227 L484.5 254.3" class="s"/>
<ellipse cx="462.8" cy="304.9" rx="36.1" ry="52.7" transform="rotate(23.9 462.8 304.9)" class="s"/>
<ellipse cx="462.5" cy="305" rx="34.3" ry="50.6" transform="rotate(23.9 462.5 305)" class="t"/>
<ellipse cx="462.2" cy="305.2" rx="33.2" ry="49.5" transform="rotate(23.9 462.2 305.2)" class="t"/>
<path d="M464.1 266.6 L465.2 265 L474 264.2 L483 264 L484 265.5 L487.2 268.7 L483 277 L487.2 278.6 L487.5 285 L487.2 290.7 L485.1 293.9 L491.4 295 L489.3 302.3 L485.1 312.8 L478.8 321.2 L474.6 322.2 L477.8 325.4 L472.5 327.5 L465.2 331.7 L457.8 335.9 L455.7 337 L455.7 343.2 L453.6 344.3 L444.2 345.3 L436.8 342.2 L434.7 339 L437.9 332.7 L434.7 330.6 L432.6 320.1 L434.7 313.8 L430 314.9 L430.5 307.5 L434.7 297 L441 288.6 L442.1 285.5 L445.2 288.6 L451.5 282.3 L459.9 276 L463 274.4Z" class="s"/>
<ellipse cx="461" cy="270.8" rx="0.9" ry="1.3" transform="rotate(20 461 270.8)" class="s" style="fill:#444;stroke-width:1"/>
<ellipse cx="487.2" cy="276" rx="0.9" ry="1.3" transform="rotate(20 487.2 276)" class="s" style="fill:#444;stroke-width:1"/>
<ellipse cx="489.3" cy="291.2" rx="0.9" ry="1.3" transform="rotate(20 489.3 291.2)" class="s" style="fill:#444;stroke-width:1"/>
<ellipse cx="473.6" cy="327.5" rx="0.9" ry="1.3" transform="rotate(20 473.6 327.5)" class="s" style="fill:#444;stroke-width:1"/>
<ellipse cx="459.4" cy="338" rx="0.9" ry="1.3" transform="rotate(20 459.4 338)" class="s" style="fill:#444;stroke-width:1"/>
<ellipse cx="434.7" cy="332.7" rx="0.9" ry="1.3" transform="rotate(20 434.7 332.7)" class="s" style="fill:#444;stroke-width:1"/>
<ellipse cx="431.6" cy="318" rx="0.9" ry="1.3" transform="rotate(20 431.6 318)" class="s" style="fill:#444;stroke-width:1"/>
<ellipse cx="445.7" cy="283.4" rx="0.9" ry="1.3" transform="rotate(20 445.7 283.4)" class="s" style="fill:#444;stroke-width:1"/>
<path d="M399.5 250.5 C400.4 249.2 403.2 245.2 405 243 C406.8 240.8 407.5 238.9 410 237 C412.5 235.1 416 232.8 420 231.5 C424 230.2 431.7 229.8 434 229.5" class="s"/>
<path d="M434 229.5 L471 250" class="s"/>
<path d="M435 231 L471 250" class="t"/>
<path d="M471 250 C469.5 250.3 465.5 250.7 462 252 C458.5 253.3 453.5 255.8 450 258 C446.5 260.2 443.4 262.8 441 265 C438.6 267.2 436.4 270.4 435.5 271.5" class="s"/>
<path d="M435.5 271.5 L399.5 250.5" class="s"/>
<path d="M406 254 L435.5 237 L462 252" class="s"/>
<path d="M435.5 229.5 L435.5 237" class="t"/>
<path d="M420 247 L420 260" class="t"/>
<path d="M449 246 L449 258" class="t"/>
<path d="M453 248 L453 256" class="t"/>
<path d="M450.5 282.3 L450.5 343.5" class="t"/>
<path d="M454.1 279.5 L454.1 343" class="t"/>
<path d="M501 280 C501.4 283.3 502.7 291.7 503.5 300 C504.3 308.3 504.9 318.3 505.7 330 C506.4 341.7 507.3 356.7 508 370 C508.7 383.3 509.4 397.7 510 410 C510.6 422.3 511.1 436.9 511.4 443.6 C511.7 450.3 511.5 448.4 512 450 C512.5 451.6 514.2 452.8 514.6 453.3" class="s"/>
<path d="M422.8 338 L422.8 501.8" class="t"/>
<path d="M422.8 501.8 C422.9 502.2 423.8 503.1 423.7 504.5 C423.6 505.9 424.8 507.6 422 510 C419.2 512.4 409.2 517.5 406.7 519" class="s"/>
<path d="M361.7 492.8 L406.7 519" class="s"/>
<path d="M423.7 502.7 L511.9 452.4" class="t"/>
</g>
<g id="base">
<path d="M406.7 519 C402.2 521.7 380.4 534.5 372.8 539 C365.2 543.5 354.5 549.9 350 553 C345.5 556.1 341.5 559.1 339 562.4 C336.5 565.7 332.6 573.8 331 578 C329.4 582.2 327.3 588.4 327.3 593.6 C327.3 598.8 327.9 611.5 331.2 617 C334.5 622.5 344.7 631 352 635.2 C359.3 639.4 377.1 645.9 385.8 648.2 C394.5 650.5 409 652.1 417 652.1 C425 652.1 438.5 649.8 445.6 648.2 C452.7 646.6 463.4 642.6 470 640 C476.6 637.4 491.7 630.2 495 628.7" class="s"/>
<ellipse cx="416.3" cy="575.4" rx="77.7" ry="43.7" transform="rotate(0.8 416.3 575.4)" class="t" style="stroke:#777;stroke-width:1.2"/>
<ellipse cx="416.6" cy="577.2" rx="75.3" ry="41.2" transform="rotate(0.8 416.6 577.2)" class="t"/>
<path d="M344.1 582 C344.2 581.3 344.3 579.4 344.6 578.1 C344.8 576.8 345.3 575.5 345.8 574.2 C346.3 572.9 347 571.7 347.8 570.5 C348.6 569.2 349.5 568 350.6 566.8 C351.6 565.6 352.8 564.5 354 563.4 C355.3 562.3 356.7 561.2 358.2 560.1 C359.7 559.1 361.3 558.1 363 557.2 C364.7 556.2 366.5 555.3 368.4 554.5 C370.3 553.6 372.2 552.8 374.3 552.1 C376.3 551.3 378.5 550.6 380.7 550 C382.8 549.4 385.1 548.8 387.4 548.3 C389.7 547.8 392.1 547.4 394.5 547 C396.9 546.7 399.3 546.4 401.8 546.1 C404.3 545.9 406.8 545.7 409.3 545.6 C411.8 545.5 414.3 545.5 416.8 545.5 C419.3 545.5 421.9 545.6 424.4 545.8 C426.9 546 429.4 546.2 431.8 546.5 C434.3 546.8 436.7 547.2 439.1 547.7 C441.5 548.1 443.9 548.6 446.1 549.2 C448.4 549.7 450.7 550.3 452.8 551 C455 551.7 457.1 552.5 459.2 553.3 C461.2 554.1 463.1 554.9 465 555.8 C466.9 556.7 468.6 557.7 470.3 558.7 C472 559.7 473.5 560.7 475 561.8 C476.5 562.9 477.8 564 479.1 565.1 C480.3 566.3 481.5 567.5 482.5 568.7 C483.5 569.9 484.4 571.1 485.1 572.4 C485.9 573.6 486.5 574.9 487 576.2 C487.5 577.5 487.9 578.8 488.2 580.1 C488.4 581.4 488.4 583.4 488.5 584" class="t" style="stroke:#777;stroke-width:1.2"/>
<path d="M345.1 580.3 C345.3 579.7 345.7 577.9 346.1 576.8 C346.6 575.6 347.2 574.4 347.8 573.3 C348.5 572.1 349.3 571 350.2 569.9 C351.1 568.8 352.1 567.7 353.2 566.7 C354.3 565.6 355.5 564.6 356.8 563.6 C358.2 562.6 359.6 561.7 361.1 560.8 C362.6 559.8 364.1 559 365.8 558.1 C367.5 557.3 369.2 556.5 371.1 555.8 C372.9 555 374.8 554.3 376.7 553.7 C378.7 553 380.7 552.4 382.8 551.9 C384.9 551.4 387 550.9 389.2 550.4 C391.4 550 393.6 549.6 395.9 549.3 C398.1 549 400.4 548.7 402.8 548.5 C405.1 548.3 407.4 548.2 409.7 548.1 C412.1 548 414.5 548 416.8 548 C419.2 548 421.5 548.1 423.9 548.3 C426.2 548.4 428.5 548.6 430.8 548.9 C433.2 549.2 435.4 549.5 437.7 549.9 C439.9 550.3 442.2 550.7 444.3 551.2 C446.5 551.7 448.6 552.3 450.7 552.8 C452.7 553.4 454.8 554.1 456.7 554.8 C458.6 555.5 460.5 556.3 462.3 557 C464.1 557.8 465.9 558.7 467.5 559.6 C469.1 560.4 470.7 561.4 472.2 562.3 C473.6 563.3 475 564.3 476.3 565.3 C477.6 566.3 478.8 567.4 479.9 568.4 C480.9 569.5 481.9 570.6 482.8 571.8 C483.6 572.9 484.4 574 485.1 575.2 C485.7 576.4 486.2 577.5 486.7 578.7 C487.1 579.9 487.4 581.7 487.6 582.3" class="t"/>
<path d="M488.5 584 C488.4 584.7 488.3 586.6 488 587.9 C487.8 589.2 487.3 590.5 486.8 591.8 C486.3 593.1 485.6 594.3 484.8 595.5 C484 596.8 483.1 598 482 599.2 C481 600.4 479.8 601.5 478.6 602.6 C477.3 603.7 475.9 604.8 474.4 605.9 C472.9 606.9 471.3 607.9 469.6 608.8 C467.9 609.8 466.1 610.7 464.2 611.5 C462.3 612.4 460.4 613.2 458.3 613.9 C456.3 614.7 454.1 615.4 451.9 616 C449.8 616.6 447.5 617.2 445.2 617.7 C442.9 618.2 440.5 618.6 438.1 619 C435.7 619.3 433.3 619.6 430.8 619.9 C428.3 620.1 425.8 620.3 423.3 620.4 C420.8 620.5 418.3 620.5 415.8 620.5 C413.3 620.5 410.7 620.4 408.2 620.2 C405.7 620 403.2 619.8 400.8 619.5 C398.3 619.2 395.9 618.8 393.5 618.3 C391.1 617.9 388.7 617.4 386.5 616.8 C384.2 616.3 381.9 615.7 379.8 615 C377.6 614.3 375.5 613.5 373.4 612.7 C371.4 611.9 369.5 611.1 367.6 610.2 C365.7 609.3 364 608.3 362.3 607.3 C360.6 606.3 359.1 605.3 357.6 604.2 C356.1 603.1 354.8 602 353.5 600.9 C352.3 599.7 351.1 598.5 350.1 597.3 C349.1 596.1 348.2 594.9 347.5 593.6 C346.7 592.4 346.1 591.1 345.6 589.8 C345.1 588.5 344.7 587.2 344.4 585.9 C344.2 584.6 344.2 582.6 344.1 582" class="s"/>
<path d="M353.5 600.9 C353 600.4 351.5 598.9 350.6 597.9 C349.8 596.9 349 595.9 348.3 594.9 C347.6 593.8 347 592.8 346.4 591.7 C345.9 590.7 345.5 589.6 345.1 588.5 C344.8 587.4 344.5 586.4 344.3 585.3 C344.2 584.2 344.1 583.1 344.1 582 C344.1 580.9 344.2 579.8 344.4 578.7 C344.6 577.6 344.9 576.6 345.3 575.5 C345.7 574.4 346.1 573.4 346.7 572.3 C347.3 571.3 348.3 569.7 348.6 569.2" class="s"/>
<path d="M451 546 L453 544 L460 544.5 L462 549 L474 552" class="s"/>
<path d="M452 548.5 L458 547.5 L461 550" class="t"/>
<path d="M477.6 600.8 L504 588" class="t"/>
</g>
<g id="head">
<path d="M563.7 431.3 C564.2 428.6 564.5 421 566.5 415.1 C568.5 409.2 572.5 401.8 576 396.1 C579.5 390.4 583.3 384.7 587.4 380.9 C591.5 377.1 596.7 375 600.8 373.3 C604.9 371.6 609 370.8 612.2 370.5 C615.4 370.2 618.5 371.2 619.8 371.4" class="s"/>
<path d="M619.8 371.4 L725.8 433.3" class="s"/>
<path d="M681 407.3 C682.4 406.4 686.7 403.6 689.4 402.1 C692.1 400.6 695.2 399.1 697.2 398.2 C699.2 397.3 698.9 396.3 701.1 396.9 C703.3 397.4 708.2 400.2 710.2 401.5 C712.2 402.8 711.3 402.4 712.8 404.7 C714.3 407 717.3 411.6 719.3 415.1 C721.2 418.6 723.4 422.5 724.5 425.5 C725.6 428.5 725.6 432 725.8 433.3" class="s"/>
<path d="M700 397.5 L702 399.5 L709 401" class="t"/>
<path d="M515.2 453.2 L594.1 414.2" class="s"/>
<path d="M594.1 414.2 C598.7 415.3 613.3 417.8 621.7 420.8 C630.1 423.8 638.2 428.4 644.5 432.2 C650.8 436 655.9 439.8 659.7 443.6 C663.5 447.4 665.7 450.6 667.3 455 C668.9 459.4 669.1 463.3 669.5 470 C669.9 476.7 669.8 490.8 669.8 495" class="t"/>
<path d="M515.2 453.2 C514.2 455 508.9 462.4 507.6 466.5 C506.3 470.6 506 478 505.7 483.6 C505.4 489.2 504.9 503.2 505.7 508.3 C506.5 513.4 508.9 518.3 511.4 521.6 C513.9 524.9 519.9 530.5 524.7 533 C529.5 535.5 541.9 539.3 547.5 540.6 C553.1 541.9 561.4 542.5 566.5 542.5 C571.6 542.5 580.4 541.6 585.5 540.6 C590.6 539.6 598.3 537.4 604.6 534.9 C610.9 532.4 623.2 526.7 633.1 521.6 C643 516.5 672.6 500.2 678.7 496.9" class="s"/>
<path d="M511.4 474 C511.5 475.1 512 480 512.5 482 C513 484 513.1 486.8 515.2 489.3 C517.3 491.8 522.9 498.4 528.5 500.7 C534.1 503 550.7 505.8 557 506.4 C563.3 507 570.2 506.7 576 505.4 C581.8 504.1 588.9 503.1 600.8 496.9 C612.7 490.7 656.8 463.9 665.4 458.8" class="t"/>
<path d="M530 486 C529.3 484.5 526 479 525.5 476 C525 473 525.4 468.7 527 466 C528.6 463.3 532.5 460 536 458 C539.5 456 545.5 453.5 550 452.5 C554.5 451.5 561 451.2 566 451.3 C571 451.4 578.5 452.2 583 453.5 C587.5 454.8 592.9 457.2 596 460 C599.1 462.8 602.9 468.7 603.6 472 C604.4 475.3 602.7 479.3 601 482 C599.3 484.7 595.5 488 592 490 C588.5 492 582.5 494.4 578 495.5 C573.5 496.6 566.6 497 562 497 C557.4 497 550.8 496.1 547 495.5 C543.2 494.9 539.5 493.8 537 493 C534.5 492.2 531 490.4 530 490" class="s"/>
<path d="M528 480 C528.5 478.3 529 472.8 531 470 C533 467.2 536.3 464.8 540 463 C543.7 461.2 548.3 459.8 553 459 C557.7 458.2 562.7 458.1 568 458.5 C573.3 458.9 580 459.8 585 461.5 C590 463.2 595.8 467.3 598 468.5" class="t"/>
<path d="M530 486 C529.3 486.3 526.5 487.2 526 488 C525.5 488.8 525.7 490.3 527 491 C528.3 491.7 532.8 491.8 534 492" class="s"/>
<ellipse cx="564" cy="482.6" rx="23.3" ry="13.3" class="s"/>
<ellipse cx="564.3" cy="481.8" rx="22.5" ry="12.4" class="t"/>
<path d="M725.8 433.3 C724.5 433.5 721 433.7 718 434.6 C715 435.5 711.1 436.6 707.6 438.5 C704.1 440.4 700.5 443.3 697.2 446.3 C694 449.3 690.9 453 688.1 456.7 C685.3 460.4 682.5 464.3 680.3 468.4 C678.1 472.5 676.6 477.3 675.1 481.4 C673.6 485.5 671.9 490.5 671.2 493.1 C670.6 495.7 671.2 496.4 671.2 497" class="s"/>
<path d="M725.8 435.9 C724.5 436.1 720.8 436.3 718 437.2 C715.2 438.1 712.1 439.2 708.9 441.1 C705.6 443.1 701.8 445.6 698.5 448.9 C695.2 452.1 692.2 456.5 689.4 460.6 C686.6 464.7 683.5 469.7 681.6 473.6 C679.7 477.5 678.6 480.5 677.7 484 C676.8 487.5 676.2 492.4 676.4 494.4 C676.6 496.3 678.6 495.5 679 495.7" class="s"/>
<path d="M671.2 497 L679 495.7" class="s"/>
<path d="M725.8 434 C727.3 434.8 732.6 436.2 735 438.5 C737.4 440.8 739 444.1 740.1 447.6 C741.2 451.1 741.2 457.4 741.4 459.3" class="s"/>
<path d="M728 437 C729 437.7 732.3 439 734 441 C735.7 443 737.1 446.2 738 449 C738.9 451.8 739.2 456.5 739.5 458" class="t"/>
<path d="M735 452 L737 456 L741.4 459.3" class="t"/>
<path d="M693.6 460 L693.6 485" class="s"/>
<path d="M693.6 485 C693.8 485.3 694.1 486.6 695 487 C695.9 487.4 697.7 487.6 699 487.5 C700.3 487.4 702.1 486.9 703 486.5 C703.9 486.1 704.2 485.2 704.4 485" class="s"/>
<path d="M704.4 449 L704.4 485" class="s"/>
<path d="M722 440 L722 448 L724 449.5 L724 456 L726 459 L731 459 L733.6 457 L733.6 440" class="s"/>
<path d="M726 445 L726 456" class="t"/>
<path d="M640 473.6 L667.3 458.7" class="t"/>
</g>
<g id="lower">
<path d="M587.5 601.3 C583.8 603.7 567.8 614.4 559.5 619 C551.2 623.6 530.5 632.7 525 636 C519.5 639.3 520.1 640.7 518 643.4 C515.9 646.1 510.6 652.9 509 656 C507.4 659.1 506.1 663.7 506.3 666.8 C506.5 669.9 508.8 676.6 510.8 679.5 C512.8 682.4 517 686.6 521.6 688.5 C526.2 690.4 538.3 693.4 545 693.9 C551.7 694.4 564.8 693.2 572 692 C579.2 690.8 591.8 687.5 599 684.9 C606.2 682.3 618.8 676.2 626 672.3 C633.2 668.4 647.7 659.4 653 656 C658.3 652.6 663.6 648.4 665.8 647 C668 645.6 668.3 645 669.4 645.2 C670.5 645.4 672.9 647.3 673.8 648.4 C674.7 649.5 675.7 651.9 676.4 653.6 C677.1 655.3 677.8 659.5 679 661.4 C680.2 663.3 683.4 666.8 685.5 668 C687.6 669.2 692 670.5 694.6 670.5 C697.2 670.5 701.9 669.4 705 668 C708.1 666.6 714.9 662.6 718 660 C721.1 657.4 726.1 651.7 728.4 648.4 C730.7 645.1 733.8 638.9 735 635.4 C736.2 631.9 737.2 625.2 737.5 622.4 C737.8 619.6 737.4 616.5 736.9 614.6 C736.4 612.7 735.4 610 733.6 608.1 C731.8 606.2 725.3 601.7 723.2 600.3 C721.1 598.9 718.7 598 718 597.7" class="s"/>
<path d="M587.5 603.3 C583.8 605.7 568.2 616.4 560 621 C551.8 625.6 531.4 634.8 526 638 C520.6 641.2 521.5 642.5 519.5 645 C517.5 647.5 512.5 654.1 511 657 C509.5 659.9 508.3 664.1 508.5 667 C508.7 669.9 510.6 675.9 512.5 678.5 C514.4 681.1 518.7 684.8 523 686.5 C527.3 688.2 538.5 691.1 545 691.5 C551.5 691.9 564.8 690.7 572 689.5 C579.2 688.3 591.8 685.1 599 682.5 C606.2 679.9 618.8 673.8 626 670 C633.2 666.2 647.7 657.1 653 653.8 C658.3 650.5 664.3 646.2 666 645" class="t"/>
<path d="M510 658 C509.8 659.3 508.2 665.1 508.5 668 C508.8 670.9 510.1 677 512 680 C513.9 683 518.1 688.4 522.5 690.5 C526.9 692.6 538.4 695.5 545 696 C551.6 696.5 564.7 695.2 572 694 C579.3 692.8 592.7 689.6 600 687 C607.3 684.4 619.8 678.4 627 674.5 C634.2 670.6 648.7 661.3 654 658 C659.3 654.7 664.9 650.8 667 649.5 C669.1 648.2 669.6 648.2 670 648" class="t"/>
<path d="M506.3 668.6 C506.5 670 507.4 676.3 508 679 C508.6 681.7 509 685.3 510.8 688.5 C512.6 691.7 517 699.5 521.6 702.9 C526.2 706.3 538.3 711.8 545 713.7 C551.7 715.6 566 717.3 572 717.3 C578 717.3 584 715.9 590 713.7 C596 711.5 609.8 704.4 617 701 C624.2 697.6 637.5 691.8 644 688.5 C650.5 685.2 661.8 678 665.8 675.9 C669.8 673.8 671.2 673.1 673.8 673.1 C676.4 673.1 682.2 675.5 685.5 675.7 C688.8 675.9 694.9 675.3 698.5 674.4 C702.1 673.5 709.2 671.3 712.8 669.2 C716.4 667.1 723 661.9 725.8 658.8 C728.6 655.7 731.9 649.6 733.6 645.8 C735.3 642 738.2 634.2 738.8 630.2 C739.4 626.2 738.5 618 738.2 615.9 C737.9 613.8 737.1 614.8 736.9 614.6" class="s"/>
<path d="M677.7 655 C678.4 656.2 680.7 662.5 683 664 C685.3 665.5 691.1 666.8 694.6 666.6 C698.1 666.4 705.5 664.4 709 662.7 C712.5 661 717.8 656.5 720.6 653.6 C723.4 650.7 728 644.1 729.7 640.6 C731.4 637.1 733.1 631.1 733.6 627.6 C734.1 624.1 733.6 616.3 733.6 614.6" class="t"/>
<path d="M666 645 L666 666.6" class="t"/>
<path d="M527 683 C528.2 682 531 678.8 534 677 C537 675.2 538.7 673.3 545 672.2 C551.3 671.1 564.5 669.8 572 670.4 C579.5 671 586.1 674.1 590 675.9 C593.9 677.7 594.6 680.4 595.5 681.3" class="s"/>
<path d="M529 684.5 C530.2 683.6 533.2 680.7 536 679 C538.8 677.3 540 675.5 546 674.5 C552 673.5 565 672.5 572 673 C579 673.5 584.5 676 588 677.5 C591.5 679 592.2 681.2 593 682" class="t"/>
<ellipse cx="574.8" cy="664.1" rx="2.6" ry="1.9" class="s"/>
<ellipse cx="574.8" cy="664.1" rx="1.2" ry="0.9" class="t"/>
<path d="M552.2 670.4 L591.9 657.8 L615.3 670.4" class="t"/>
<path d="M591.9 657.8 L619 639.8" class="t"/>
<path d="M619 632.6 L653 650.6" class="s"/>
<path d="M619 635 L652 652.5" class="t"/>
<path d="M608.8 636 L619 632.6" class="t"/>
<path d="M579.2 611.2 L580.5 620 L583 625 L586.5 645.2 L584 630 L581.5 625 L579.2 611.2" class="s"/>
<path d="M590 602.5 C591.3 604.5 597.7 614.8 600 617.5 C602.3 620.2 604.8 622 607.5 622.5 C610.2 623 616.3 622.3 620 621.3 C623.7 620.3 631.7 617.2 635 615 C638.3 612.8 642.7 608.3 645 605 C647.3 601.7 651.3 594 652.5 590 C653.7 586 653.6 578.7 653.8 575 C654 571.3 654.2 564.3 654.3 562.6" class="s"/>
<path d="M604 622 C605.7 622.7 610.5 625.5 614 626 C617.5 626.5 621 626.2 625 625 C629 623.8 634.2 621.7 638 619 C641.8 616.3 645 612.8 648 609 C651 605.2 654.7 598.2 656 596" class="t"/>
<path d="M640 625 C641 623.7 643.8 619.6 646 617 C648.2 614.4 650.7 612.2 653 609.4 C655.3 606.6 658 602.2 660 600 C662 597.8 663.9 597 664.7 596.4" class="t"/>
<path d="M654.3 562.6 L657 563.9 L672.5 569.8 L682.9 565.2 L689.4 569.8 L694.6 578.2 L701.1 586 L707.6 589.9 L711.5 587.3 L714.1 583.4 L718 584.7 L721.9 587.3 L722.6 595.1 L718 597.7" class="s"/>
<path d="M654.3 562.6 L653.5 570" class="s"/>
<path d="M673.8 570.4 C674.2 573 674.9 581.2 676.4 586 C677.9 590.8 679.9 595.5 682.9 599 C685.9 602.5 690.7 606.1 694.6 606.8 C698.5 607.4 703.5 604.8 706.3 602.9 C709.1 601 710.4 597 711.5 595.1 C712.6 593.2 712.6 591.9 712.8 591.2" class="t"/>
<path d="M672.5 569.8 C672.6 571.5 672.9 578.3 673 580" class="t"/>
<ellipse cx="658.9" cy="573.5" rx="5" ry="3" class="s"/>
<ellipse cx="658.9" cy="573.5" rx="2.3" ry="1.3" class="t"/>
<path d="M653.9 573.5 L653.5 595" class="s"/>
<path d="M663.9 573.5 L664.7 596.4" class="t"/>
<ellipse cx="720.6" cy="609.6" rx="5" ry="3" class="s"/>
<ellipse cx="720.6" cy="609.6" rx="2.3" ry="1.3" class="t"/>
<path d="M715.6 609.6 L715.4 628" class="s"/>
<path d="M725.6 609.6 L726.5 626" class="s"/>
<clipPath id="grclip"><path d="M679 657 L713 627.6 L719.3 632.8 L683 664 Z"/></clipPath>
<path d="M677.0 653.5 L684.0 664.5 M684.0 653.5 L677.0 664.5 M681.2 649.8 L688.2 660.8 M688.2 649.8 L681.2 660.8 M685.5 646.0 L692.5 657.0 M692.5 646.0 L685.5 657.0 M689.8 642.2 L696.8 653.2 M696.8 642.2 L689.8 653.2 M694.0 638.5 L701.0 649.5 M701.0 638.5 L694.0 649.5 M698.2 634.8 L705.2 645.8 M705.2 634.8 L698.2 645.8 M702.5 631.0 L709.5 642.0 M709.5 631.0 L702.5 642.0 M706.8 627.2 L713.8 638.2 M713.8 627.2 L706.8 638.2 M711.0 623.5 L718.0 634.5 M718.0 623.5 L711.0 634.5" fill="none" stroke="#444" stroke-width="1.1" clip-path="url(#grclip)"/>
<path d="M680.3 656.2 L712.8 627.6 L719.3 632.8" class="s"/>
<path d="M683 662.7 L719.3 632.8" class="s"/>
</g>
<g id="lid207">
<rect x="539.5" y="213.5" width="112" height="128.5" class="dash"/>
<path d="M560 246 C560 244.5 560.3 239.9 561 238 C561.7 236.1 563.8 233.3 565 232 C566.2 230.7 568 229.1 570 228 C572 226.9 577.3 224.8 580 224 C582.7 223.2 587.3 222.3 590 222 C592.7 221.7 597.3 221.5 600 221.5 C602.7 221.5 607.3 221.7 610 222 C612.7 222.3 617.6 223.2 620 224 C622.4 224.8 626.1 226.8 628 228 C629.9 229.2 632.7 231.4 634 233 C635.3 234.6 637.6 238.1 638 240 C638.4 241.9 637.5 245.4 637 247 C636.5 248.6 635.2 250.5 634 252 C632.8 253.5 629.9 256.7 628 258 C626.1 259.3 622.4 261 620 262 C617.6 263 612.7 264.8 610 265.5 C607.3 266.2 602.9 266.8 600 267 C597.1 267.2 590.3 267.3 588 267 C585.7 266.7 584.3 264.9 583 264.5 C581.7 264.1 579.3 263.9 578 264 C576.7 264.1 574.5 265.4 573 265.5 C571.5 265.6 568.5 265.5 567 265 C565.5 264.5 562.9 263.1 562 262 C561.1 260.9 560 258.2 560 257 C560 255.8 561.5 253.8 562 253 C562.5 252.2 564.1 251.5 564 251 C563.9 250.5 561.5 249.7 561 249 C560.5 248.3 560 247.5 560 246Z" class="s"/>
<path d="M560 257 C560.1 257.7 559.7 260.7 560.5 262 C561.3 263.3 564.1 266.1 566 267 C567.9 267.9 573 269.1 575 269 C577 268.9 579.7 266.5 581 266 C582.3 265.5 583.1 265.2 585 265.5 C586.9 265.8 591.7 267.9 595 268 C598.3 268.1 605.9 266.9 610 266 C614.1 265.1 622.4 263.1 626 261 C629.6 258.9 635.5 251.5 637 250" class="s"/>
<ellipse cx="600.5" cy="275.7" rx="2.5" ry="1.8" class="s"/>
<path d="M603 274 L610.5 271" class="s"/>
<path d="M604 278 L611 279" class="t"/>
<ellipse cx="600.5" cy="283" rx="3.5" ry="2.6" class="s"/>
<path d="M597 283 C597.3 283.5 597.5 285.5 599 286 C600.5 286.5 603.8 286.2 606 286 C608.2 285.8 611 284.8 612 284.5" class="s"/>
<path d="M604 282 L613 282" class="s"/>
<path d="M612 280 L619 279.5 L620 283.5 L613 285Z" class="s"/>
<path d="M614 281 L617 280.5 L618 283" class="t"/>
<path d="M599 289 C602.3 289 608.5 289.3 612 289.8 C615.5 290.3 622.1 291.8 625 293 C627.9 294.2 632.3 297.3 634 299 C635.7 300.7 637.4 304.1 638 306 C638.6 307.9 638.8 311.1 638.5 313 C638.2 314.9 637.1 318.1 636 320 C634.9 321.9 632.1 325.4 630 327 C627.9 328.6 622.9 330.9 620 332 C617.1 333.1 611.3 335 608 335.5 C604.7 336 598.3 336.2 595 336 C591.7 335.8 585.7 334.4 583 334 C580.3 333.6 576.7 333.3 575 333 C573.3 332.7 571.7 332.4 570 332 C568.3 331.6 563.3 330.9 562 330 C560.7 329.1 560 326.2 560 325 C560 323.8 561.5 321.8 562 321 C562.5 320.2 564.1 319.9 564 319 C563.9 318.1 561.3 315.7 561 314 C560.7 312.3 561.2 308 562 306 C562.8 304 565.1 300.7 567 299 C568.9 297.3 573.3 294.2 576 293 C578.7 291.8 583.9 290.5 587 290 C590.1 289.5 595.7 289 599 289Z" class="s"/>
<path d="M599 291.5 C602.2 291.5 608.7 291.8 612 292.3 C615.3 292.8 621.3 294.3 624 295.5 C626.7 296.7 630.5 299.5 632 301 C633.5 302.5 635 305.4 635.5 307 C636 308.6 636.3 311.3 636 313 C635.7 314.7 634.6 318.3 633.5 320 C632.4 321.7 629.6 324.7 627.5 326 C625.4 327.3 620.9 329.1 618 330 C615.1 330.9 609.1 332.4 606 332.8 C602.9 333.2 598.1 333.2 595 333 C591.9 332.8 585.5 331.8 583 331.5 C580.5 331.2 577.7 330.7 576 330.5 C574.3 330.3 571.5 330.3 570 330 C568.5 329.7 565.4 329 564.5 328.3 C563.6 327.6 562.9 325.8 563 325 C563.1 324.2 564.5 323.2 565 322.5 C565.5 321.8 567.1 321.1 567 320 C566.9 318.9 564.3 315.7 564 314 C563.7 312.3 564.3 308.7 565 307 C565.7 305.3 567.8 302.5 569.5 301 C571.2 299.5 575.5 296.6 578 295.5 C580.5 294.4 585.2 293 588 292.5 C590.8 292 595.8 291.5 599 291.5Z" class="s"/>
<ellipse cx="599.5" cy="311.5" rx="35" ry="19.5" class="t"/>
<ellipse cx="599.5" cy="311.5" rx="33.5" ry="18.5" class="t"/>
<ellipse cx="599" cy="310" rx="25.5" ry="14" class="s"/>
<path d="M573.5 310 C573.6 311.2 572.1 314.3 574 317 C575.9 319.7 580.8 324 585 326 C589.2 328 594.5 328.7 599 329 C603.5 329.3 607.8 329.8 612 328 C616.2 326.2 622.4 321 624.5 318 C626.6 315 624.5 311.3 624.5 310" class="s"/>
<path d="M598 291 L598 295" class="s"/>
<path d="M601 291 L601 295" class="s"/>
<path d="M598 326 L598 332" class="s"/>
<path d="M601 326 L601 332" class="s"/>
<path d="M612 320 L619 316.5 L620 324.5 L613 328Z" class="s"/>
</g>
<g id="wedges">
<path d="M672 516 C672.5 515.6 673.7 514 675 513.5 C676.3 513 678.5 512.8 680 513 C681.5 513.2 683 513.8 684 514.5 C685 515.2 685.8 516.6 686 517.5 C686.2 518.4 685.6 519.6 685.5 520" class="s"/>
<path d="M672 516 L672 522 L676 525 L685.5 522.5 L685.5 520" class="s"/>
<path d="M672 516 L676 519 L685.5 520" class="s"/>
<path d="M676 519 L676 525" class="s"/>
<path d="M684 524 C684.5 523.6 685.7 522 687 521.5 C688.3 521 690.5 520.8 692 521 C693.5 521.2 695 521.8 696 522.5 C697 523.2 697.8 524.6 698 525.5 C698.2 526.4 697.6 527.6 697.5 528" class="s"/>
<path d="M684 524 L684 530 L688 533 L697.5 530.5 L697.5 528" class="s"/>
<path d="M684 524 L688 527 L697.5 528" class="s"/>
<path d="M688 527 L688 533" class="s"/>
<path d="M563.5 574.5 C564 574.1 565.2 572.5 566.5 572 C567.8 571.5 570 571.3 571.5 571.5 C573 571.7 574.5 572.2 575.5 573 C576.5 573.8 577.2 575.1 577.5 576 C577.8 576.9 577.1 578.1 577 578.5" class="s"/>
<path d="M563.5 574.5 L563.5 580.5 L567.5 583.5 L577 581 L577 578.5" class="s"/>
<path d="M563.5 574.5 L567.5 577.5 L577 578.5" class="s"/>
<path d="M567.5 577.5 L567.5 583.5" class="s"/>
<path d="M584 586 C584.5 585.6 585.7 584 587 583.5 C588.3 583 590.5 582.8 592 583 C593.5 583.2 595 583.8 596 584.5 C597 585.2 597.8 586.6 598 587.5 C598.2 588.4 597.6 589.6 597.5 590" class="s"/>
<path d="M584 586 L584 592 L588 595 L597.5 592.5 L597.5 590" class="s"/>
<path d="M584 586 L588 589 L597.5 590" class="s"/>
<path d="M588 589 L588 595" class="s"/>
</g>
<g id="cap213">
<ellipse cx="737.6" cy="557.9" rx="20.6" ry="29.9" transform="rotate(-31.6 737.6 557.9)" class="s"/>
<ellipse cx="738.5" cy="557" rx="14.7" ry="27.6" transform="rotate(-28 738.5 557)" class="s"/>
<ellipse cx="737.3" cy="557.5" rx="17.5" ry="28.6" transform="rotate(-30 737.3 557.5)" class="t"/>
<path d="M742.4 541.2 L747.2 539.2" class="s"/>
<path d="M726.4 576 L731.2 574.4" class="s"/>
<path d="M742 585.5 L745 583 L748 584" class="s"/>
</g>
<g id="foot215">
<path d="M648.4 716 C652.1 716.2 667.6 727.6 669.6 729.2 C671.6 730.8 669.3 731.8 668.8 732.4 C668.3 733 665.4 735 664.8 735.6 C664.2 736.2 663.5 737.5 663.2 738 C662.9 738.5 662.4 739.8 661.6 740.4 C660.8 741 657 743.2 655.2 743.6 C653.4 744 645.9 744.5 644 744.4 C642.1 744.3 637.2 743.3 636 742.8 C634.8 742.3 632.5 740.5 632 739.6 C631.5 738.7 631.3 734.9 631.2 734 C631.1 733.1 631 731.5 631.2 730.8 C631.4 730.1 631.1 728.3 632.8 726.8 C634.5 725.3 644.7 715.8 648.4 716Z" class="s"/>
<path d="M633.6 729.2 C635.1 727.6 645 717.9 648.4 718 C651.8 718.1 666.5 728.3 668 730 C669.5 731.7 664.8 734.1 663.2 734.8 C661.6 735.5 654.3 737 652 737.2 C649.7 737.4 641.8 736.7 640 736.4 C638.2 736.1 634.2 734.7 633.6 734 C633 733.3 632.1 730.8 633.6 729.2Z" class="t"/>
<path d="M631.5 733 C632.2 733.8 633.8 736.4 636 737.5 C638.2 738.6 641.8 739.2 645 739.5 C648.2 739.8 652.2 739.6 655 739 C657.8 738.4 660.8 736.5 662 736" class="t"/>
<path d="M641 724 L646 721.5 L648 723 L643 726Z" class="s" style="fill:#555"/>
<path d="M650 726 L656 724 L658 726 L652 729Z" class="s" style="fill:#444"/>
<path d="M636 733 L640 731.5 L642 733 L638 735Z" class="s" style="fill:#333"/>
<path d="M640 730 L655 727" class="t"/>
<path d="M644 733 L660 729" class="t"/>
<path d="M645.6 748.6 L645.6 758.1" class="s"/>
<path d="M648.8 748.6 L648.8 758.1" class="s"/>
<ellipse cx="647.2" cy="748.6" rx="1.6" ry="0.8" class="s"/>
<path d="M645.6 750.6 L648.8 749.8" class="s" style="stroke-width:1.1"/>
<path d="M645.6 752.2 L648.8 751.4" class="s" style="stroke-width:1.1"/>
<path d="M645.6 753.8 L648.8 753" class="s" style="stroke-width:1.1"/>
<path d="M645.6 755.4 L648.8 754.6" class="s" style="stroke-width:1.1"/>
<ellipse cx="647.2" cy="760.1" rx="3.3" ry="2.7" class="s"/>
<ellipse cx="647.2" cy="759.6" rx="1.5" ry="1" class="t"/>
<path d="M661.2 752.6 L661.2 762.1" class="s"/>
<path d="M664.4 752.6 L664.4 762.1" class="s"/>
<ellipse cx="662.8" cy="752.6" rx="1.6" ry="0.8" class="s"/>
<path d="M661.2 754.6 L664.4 753.8" class="s" style="stroke-width:1.1"/>
<path d="M661.2 756.2 L664.4 755.4" class="s" style="stroke-width:1.1"/>
<path d="M661.2 757.8 L664.4 757" class="s" style="stroke-width:1.1"/>
<path d="M661.2 759.4 L664.4 758.6" class="s" style="stroke-width:1.1"/>
<ellipse cx="662.8" cy="764.1" rx="3.3" ry="2.7" class="s"/>
<ellipse cx="662.8" cy="763.6" rx="1.5" ry="1" class="t"/>
</g>
<g id="plate216">
<path d="M745.2 716 C745.2 712.5 745.2 697.3 745.2 690 C745.2 682.7 744.3 666.5 745 661.2 C745.7 655.9 748.6 653.6 750.8 650.4 C753 647.2 758.7 640.3 761.6 637.4 C764.5 634.5 769.5 630.6 772.4 628.8 C775.3 627 780.6 624.9 783.2 624.1 C785.8 623.3 789.4 622.9 791.8 623 C794.2 623.1 799.2 623.8 801.2 624.5 C803.2 625.2 805.9 627.1 806.9 628.1 C807.9 629.1 808.7 626.1 809 631.7 C809.3 637.3 809 663.4 809 669.8 C809 676.2 809 678.6 809 680" class="s"/>
<path d="M748 716 C748 712.5 748 697.1 748 690 C748 682.9 747.3 668 748 663 C748.7 658 751.4 655.6 753.5 652.5 C755.6 649.4 760.8 642.8 763.5 640 C766.2 637.2 771.3 633.2 774 631.5 C776.7 629.8 781.6 627.7 784 627 C786.4 626.3 789.8 625.9 792 626 C794.2 626.1 798.9 626.9 800.5 627.5 C802.1 628.1 803.5 628.8 804 630.5 C804.5 632.2 804 634.9 804 640 C804 645.1 804 665.1 804 669" class="t"/>
<path d="M749.4 664 C750.1 662.8 752.5 657.9 754.5 655 C756.5 652.1 761.8 645.3 764.5 642.5 C767.2 639.7 772.3 635.7 775 634 C777.7 632.3 782.7 630.2 785 629.5 C787.3 628.8 790.5 628.4 792.5 628.5 C794.5 628.6 799 629.8 800 630" class="t"/>
<path d="M745.2 716 C745.7 716.4 746.8 717.8 748 718.5 C749.2 719.2 750.5 719.9 752.4 720.4 C754.3 720.9 757.2 721.8 759.6 721.8 C762 721.8 764.6 721.1 766.8 720.4 C768.9 719.7 771.5 718 772.5 717.5" class="s"/>
<ellipse cx="776" cy="671.7" rx="16.3" ry="21.5" transform="rotate(-12 776 671.7)" class="s"/>
<ellipse cx="776.5" cy="671.5" rx="14.8" ry="19.8" transform="rotate(-12 776.5 671.5)" class="t"/>
<path d="M772.4 666 L791.5 678 L794.5 684 L789.5 686.5 L770 674.5" class="s"/>
<ellipse cx="771.2" cy="670.2" rx="2.8" ry="4.3" transform="rotate(-35 771.2 670.2)" class="s" style="fill:#fff"/>
<ellipse cx="792.8" cy="682.6" rx="2.8" ry="3.8" transform="rotate(-35 792.8 682.6)" class="s" style="fill:#fff"/>
<ellipse cx="793" cy="682.7" rx="1.4" ry="1.9" transform="rotate(-35 793 682.7)" class="t"/>
<path d="M778.8 632.4 L781.7 631.7 L781 638.1 L779.6 648.2 L773.1 651.8 L763 654 L756.5 659 L756.5 662.6" class="s"/>
<path d="M789.6 646.8 L803.3 639.6 L803.3 654 L796.1 658.3" class="s"/>
<path d="M789.6 646.8 L794 652.5 L796.1 658.3" class="t"/>
<path d="M796.1 658.3 L803.5 655 L803.5 668" class="t"/>
<path d="M755.8 661.2 L771.6 652.5" class="s"/>
<path d="M756.5 663.2 L772 654.5" class="t"/>
<ellipse cx="756.5" cy="663" rx="1" ry="1" class="s" style="fill:#222"/>
<ellipse cx="762.3" cy="646" rx="1.6" ry="1.9" class="s"/>
<path d="M790.5 628 L794 627 L797.5 630 L796 633 L792 632.5Z" class="s" style="fill:#777"/>
<path d="M749 669 L755 666" class="t"/>
<path d="M749 684 L755 681" class="t"/>
<path d="M754.5 685.8 C754.8 686.5 755.1 688.4 756 690 C756.9 691.6 758.1 693.9 759.6 695.2 C761.1 696.5 763.9 697.6 765.3 698 C766.7 698.4 767.2 696.8 768.2 697.3 C769.2 697.8 769.4 701 771.1 701 C772.8 701 776.6 698.9 778.3 697.3 C780 695.7 780.7 692.5 781.2 691.6" class="s"/>
<path d="M765.3 698.8 L763.2 710.3 L766.8 712.4 L768.9 700.2" class="s"/>
<path d="M766 700 L764.5 710" class="t"/>
<path d="M781.2 690.1 L782.6 704.5 L791.2 700.2 L786.9 691.6" class="s"/>
<path d="M778.3 697.3 L778.3 711.7 L791.2 701" class="s"/>
<ellipse cx="758" cy="714" rx="4" ry="3.2" class="s" style="fill:#999"/>
<ellipse cx="758" cy="714" rx="2" ry="1.5" class="s"/>
<path d="M758.1 682.2 C758.7 683.4 759.7 687.7 761.7 689.4 C763.8 691.1 767.1 692.9 770.4 692.3 C773.6 691.7 779.4 686.9 781.2 685.8" class="t"/>
<path d="M745.2 680.2 C744.5 680.2 742 680.2 741 680.5 C740 680.8 739.6 681.4 739.4 682 C739.2 682.6 739 683.6 740 684 C741 684.4 744.3 684.3 745.2 684.4" class="s"/>
<path d="M809 641.2 L811.7 642 L811.7 646.4 L809.5 646.4" class="s"/>
</g>
<g id="spring217">
<ellipse cx="815" cy="661.8" rx="1.3" ry="1.5" class="s"/>
<path d="M816.5 661 L829.9 652.9" class="s"/>
<path d="M817 663.5 L826 668.5" class="s"/>
</g>
<g id="plate218">
<path d="M795 693 C795.1 691.6 795.2 687.1 795.5 686 C795.8 684.9 797.2 681 798 680 C798.8 679 803.9 675 804.8 674.3 C805.7 673.6 808.2 672.3 809 672 C809.8 671.7 813.9 671 814.7 671 C815.5 671 818 671.7 818.5 672 C819 672.3 820.9 673.5 821.3 674.3 C821.7 675.1 823.4 680.9 823.5 682 C823.6 683.1 823.1 687.1 823 688 C822.9 688.9 822.6 692.2 822.4 693 C822.2 693.8 820.9 697.3 820.5 698 C820.1 698.7 818.5 701.2 818 701.8 C817.5 702.4 815 703.2 814.7 705 C814.4 706.8 815.8 721.2 814.7 723.3 C813.6 725.4 802.1 731 801 729.9 C799.9 728.8 801.3 712.4 801 710.6 C800.7 708.8 797.6 708.6 797 708 C796.4 707.4 794 704.2 793.8 703 C793.6 701.8 794.9 694.4 795 693Z" class="s" style="fill:#fff"/>
<ellipse cx="808" cy="690.8" rx="3.1" ry="4.4" transform="rotate(-15 808 690.8)" class="s"/>
</g>
<g id="clip219">
<path d="M826.3 704.7 C826.5 703.7 827 699.2 827.6 698.2 C828.2 697.2 830.7 696.6 831.5 696.3 C832.3 696 834.1 695.5 834.8 695.6 C835.5 695.7 837.2 696.3 837.4 696.9 C837.6 697.5 837 700 836.7 700.8 C836.4 701.6 835.6 703.3 834.8 704.1 C834 704.9 831.2 707 830.2 707.3 C829.2 707.6 826.8 707.3 826.3 707 C825.8 706.7 826.1 705.7 826.3 704.7Z" class="s"/>
<ellipse cx="830.9" cy="700.8" rx="2.2" ry="3.2" transform="rotate(30 830.9 700.8)" class="s"/>
<path d="M825 687 L830 694.5" class="s" style="stroke-width:3.2;stroke:#333"/>
<path d="M825 687 L830 694.5" class="s" style="stroke-width:1.2;stroke:#bbb;stroke-dasharray:1 1"/>
<path d="M826.3 707 C825.6 707.3 823.5 708.2 822 709 C820.5 709.8 818.2 711.2 817 712 C815.8 712.8 815.3 713.2 815 713.5" class="s"/>
<ellipse cx="836.8" cy="697.5" rx="1" ry="1.2" class="s" style="fill:#222"/>
<ellipse cx="826.5" cy="705.5" rx="1" ry="1.2" class="s" style="fill:#222"/>
</g>
<g id="gear220">
<ellipse cx="853.8" cy="713.5" rx="18.8" ry="31.2" transform="rotate(30.3 853.8 713.5)" class="s" style="fill:#fff"/>
<path d="M863.7 682.8 L864 682.8 L864.3 682.8 L864.6 682.8 L864.9 682.8 L865.1 682.8 L864.6 685 L864.8 685 L865.1 685.1 L865.4 685.1 L865.6 685.1 L865.8 685.2 L867 683.1 L867.3 683.2 L867.5 683.2 L867.8 683.3 L868 683.4 L868.3 683.5 L867.5 685.6 L867.7 685.7 L868 685.8 L868.2 685.9 L868.4 686 L868.6 686.1 L870 684.1 L870.2 684.3 L870.4 684.4 L870.7 684.5 L870.9 684.6 L871.1 684.8 L870.1 686.9 L870.3 687 L870.5 687.2 L870.7 687.3 L870.9 687.5 L871.1 687.6 L872.6 685.9 L872.8 686 L873 686.2 L873.1 686.4 L873.3 686.6 L873.5 686.8 L872.3 688.8 L872.5 689 L872.6 689.2 L872.8 689.4 L872.9 689.6 L873.1 689.8 L874.7 688.2 L874.9 688.5 L875 688.7 L875.2 688.9 L875.3 689.2 L875.5 689.4 L874.1 691.3 L874.2 691.5 L874.3 691.8 L874.4 692 L874.6 692.3 L874.7 692.5 L876.4 691.2 L876.5 691.5 L876.6 691.7 L876.7 692 L876.8 692.3 L876.9 692.6 L875.4 694.3 L875.5 694.6 L875.5 694.9 L875.6 695.1 L875.7 695.4 L875.8 695.7 L877.5 694.7 L877.5 695 L877.6 695.3 L877.7 695.6 L877.7 695.9 L877.8 696.3 L876.2 697.8 L876.2 698.1 L876.2 698.4 L876.3 698.7 L876.3 699 L876.3 699.3 L878 698.6 L878.1 699 L878.1 699.3 L878.1 699.7 L878.1 700 L878.1 700.4 L876.4 701.6 L876.4 701.9 L876.4 702.3 L876.4 702.6 L876.4 703 L876.4 703.3 L878 702.9 L878 703.3 L878 703.6 L877.9 704 L877.9 704.4 L877.9 704.8 L876.1 705.7 L876.1 706.1 L876 706.4 L876 706.8 L875.9 707.1 L875.9 707.5 L877.5 707.4 L877.4 707.8 L877.3 708.2 L877.2 708.6 L877.1 709 L877 709.4 L875.3 710 L875.2 710.4 L875.2 710.7 L875.1 711.1 L875 711.5 L874.9 711.8 L876.3 712.1" class="s"/>
<ellipse cx="853.8" cy="714" rx="17" ry="29" transform="rotate(30.3 853.8 714)" class="t"/>
<ellipse cx="853.2" cy="713.8" rx="14.7" ry="25.4" transform="rotate(38.3 853.2 713.8)" class="s"/>
<ellipse cx="854.7" cy="713.4" rx="11.3" ry="18.9" transform="rotate(33 854.7 713.4)" class="s"/>
<ellipse cx="855" cy="713.5" rx="10.3" ry="17.7" transform="rotate(33 855 713.5)" class="t"/>
<path d="M836 733 C836.7 733.7 838.2 736.1 840 737 C841.8 737.9 844.5 738.7 847 738.5 C849.5 738.3 852.5 737.2 855 736 C857.5 734.8 860.8 731.8 862 731" class="t"/>
<path d="M858.8 699.5 L858.2 707.3" class="s"/>
<path d="M860.3 699.5 L859.7 707.3" class="t"/>
<path d="M850.4 704.7 L852.3 710.6" class="s"/>
<path d="M851.9 704.7 L853.8 710.6" class="t"/>
<path d="M845 716.4 L851 716.4" class="s"/>
<path d="M846.5 716.4 L852.5 716.4" class="t"/>
<path d="M846.5 725.5 L851 720.3" class="s"/>
<path d="M848 725.5 L852.5 720.3" class="t"/>
<ellipse cx="858.5" cy="714.8" rx="5.8" ry="7.5" transform="rotate(20 858.5 714.8)" class="s" style="fill:#fff"/>
<ellipse cx="859.6" cy="715.2" rx="3.1" ry="4.6" transform="rotate(25 859.6 715.2)" class="s" style="stroke-width:1.8"/>
<path d="M860 707 L862 709 L858 709Z" class="s" style="fill:#222"/>
<path d="M849.5 714 L851.5 716 L849 717.5Z" class="s" style="fill:#222"/>
</g>
<g id="washer221">
<ellipse cx="875.9" cy="728.2" rx="13.5" ry="22" transform="rotate(28.6 875.9 728.2)" class="s" style="fill:#fff"/>
<ellipse cx="876.2" cy="728.1" rx="4.9" ry="7.3" transform="rotate(23.6 876.2 728.1)" class="s"/>
<ellipse cx="867.4" cy="733.6" rx="1.2" ry="1.5" class="s"/>
<ellipse cx="884.7" cy="723.4" rx="1.2" ry="1.5" class="s"/>
</g>
<g id="ring222">
<ellipse cx="911.9" cy="748.5" rx="25.5" ry="40.7" transform="rotate(27.4 911.9 748.5)" class="s" style="stroke-width:1.4"/>
<ellipse cx="912.7" cy="751.5" rx="23.8" ry="38.1" transform="rotate(27.4 912.7 751.5)" class="t"/>
<ellipse cx="914.4" cy="750" rx="21.6" ry="34.5" transform="rotate(27.4 914.4 750)" class="s" style="stroke-width:1.4"/>
<ellipse cx="915.1" cy="749.8" rx="20" ry="32" transform="rotate(27.4 915.1 749.8)" class="s" style="stroke-width:1.4"/>
<ellipse cx="915.9" cy="749.9" rx="18.5" ry="29.5" transform="rotate(27.4 915.9 749.9)" class="s" style="stroke-width:1.4"/>
<path d="M932.4 726.5 C932.6 726.7 933.2 727.3 933.6 727.8 C933.9 728.2 934.3 728.7 934.6 729.2 C934.9 729.7 935.2 730.3 935.5 730.9 C935.8 731.5 936 732.1 936.2 732.7 C936.4 733.3 936.6 734 936.8 734.7 C936.9 735.3 937 736 937.1 736.8 C937.2 737.5 937.3 738.2 937.3 739 C937.4 739.7 937.4 740.5 937.3 741.3 C937.3 742.1 937.3 742.9 937.2 743.7 C937.1 744.5 937 745.3 936.8 746.1 C936.7 747 936.5 747.8 936.3 748.6 C936.1 749.5 935.9 750.3 935.7 751.1 C935.4 752 935.1 752.8 934.8 753.6 C934.5 754.4 934.2 755.3 933.8 756.1 C933.4 756.9 933.1 757.7 932.6 758.5 C932.2 759.3 931.6 760.4 931.4 760.8" class="s" style="stroke-width:2.6;stroke:#333"/>
<path d="M912.8 776.9 C912.4 776.9 911.4 777.2 910.6 777.3 C909.9 777.4 909.2 777.5 908.6 777.5 C907.9 777.5 907.2 777.4 906.6 777.3 C905.9 777.2 905.3 777.1 904.7 776.9 C904.1 776.7 903.5 776.4 902.9 776.1 C902.3 775.8 901.8 775.5 901.3 775.1 C900.8 774.7 900.3 774.3 899.8 773.8 C899.4 773.4 899 772.8 898.6 772.3 C898.2 771.7 897.8 771.1 897.5 770.5 C897.2 769.9 896.8 768.8 896.6 768.5" class="s" style="stroke-width:2.2;stroke:#333"/>
<path d="M904 716 L903.5 713 L906 711.5 L909 712 L910 715" class="s"/>
<path d="M883 770.3 L879 769.5" class="s"/>
<path d="M883 775.5 L879.5 775.3" class="s"/>
<ellipse cx="878.6" cy="772.4" rx="1.7" ry="2.9" transform="rotate(10 878.6 772.4)" class="s"/>
</g>
<g id="knob223">
<ellipse cx="941.2" cy="765.3" rx="25.6" ry="32.5" transform="rotate(28.9 941.2 765.3)" class="s" style="fill:#fff" stroke-width="1.3"/>
<ellipse cx="941.5" cy="765.3" rx="24.6" ry="31.4" transform="rotate(28.9 941.5 765.3)" class="t"/>
<ellipse cx="944.3" cy="766.6" rx="20" ry="28.8" transform="rotate(27.1 944.3 766.6)" class="s"/>
<ellipse cx="944.6" cy="766.8" rx="19" ry="27.6" transform="rotate(27.1 944.6 766.8)" class="t"/>
<path d="M942 748 C941.2 750 938.2 756.3 937 760 C935.8 763.7 935.2 766.7 935 770 C934.8 773.3 935 776.7 935.5 780 C936 783.3 937.6 788.3 938 790" class="s"/>
<path d="M950 748 C950.4 750 952 756.3 952.5 760 C953 763.7 953.1 766.7 953 770 C952.9 773.3 952.5 777 952 780 C951.5 783 950.3 786.7 950 788" class="s"/>
<path d="M946 743 L949 764" class="s" style="stroke:#aaa;stroke-width:2"/>
<path d="M938 751 C937.3 753.3 934.7 760.2 934 765 C933.3 769.8 934 777.5 934 780" class="t"/>
</g>
</g>
<g class="ld">
<path d="M69.5 346 L74.5 367.5"/>
<path d="M148 470 L152.6 481.7"/>
<path d="M285 522.5 L289 497.5"/>
<path d="M131.5 585 L138.8 598.4"/>
<path d="M105 668.4 L118 670.1"/>
<path d="M101.7 728.8 L118 731"/>
<path d="M653.6 242 L680 238.6"/>
<path d="M616 554.4 L581.6 569.6"/>
<path d="M618.4 557.6 L596 580.8"/>
<path d="M643 539 L666 525"/>
<path d="M649 541.6 L678 531.6"/>
<path d="M746.5 532 L753 528"/>
<path d="M667.2 738.8 L678.4 746.8"/>
<path d="M668.8 754 L677.6 751.2"/>
<path d="M805 619.9 L814.1 613.4"/>
<path d="M825.8 651.1 L834.9 640.7"/>
<path d="M789.4 734.3 L795.9 729.1"/>
<path d="M837.5 684.9 L857 665.4"/>
<path d="M875.2 688.8 L892.1 679.7"/>
<path d="M851.8 769.4 L860.9 749.9"/>
<path d="M929.8 709.6 L933.7 701.8"/>
<path d="M961 738.2 L964.9 730.4"/>
<path d="M430.2 799 L395 653"/>
<path d="M437.8 799 L538.4 541.6"/>
<path d="M444.7 800.8 L528.8 713.3"/>
<path d="M446.5 809.5 L629.6 740.4"/>
</g><g class="lb">
<text x="57" y="343.4">0201</text>
<text x="134.5" y="461.9">0202</text>
<text x="273.2" y="535.7">0203</text>
<text x="136.6" y="609.7">0204</text>
<text x="121.6" y="675.0">0205</text>
<text x="121.6" y="736.2">0206</text>
<text x="683.9" y="243.0">0207</text>
<text x="619.5" y="553.4">0212</text>
<text x="755.5" y="533.4">0213</text>
<text x="684" y="757.1">0215</text>
<text x="813.5" y="610.2">0216</text>
<text x="833.1" y="633.1">0217</text>
<text x="773.3" y="751.9">0218</text>
<text x="857.8" y="662.2">0219</text>
<text x="896.8" y="679.1">0220</text>
<text x="830" y="781.8">0221</text>
<text x="929.8" y="700.7">0222</text>
<text x="958.4" y="725.1">0223</text>
<text x="411" y="814.2">0224</text>
<text x="9.5" y="835" style="font-size:14.4px">58300000129554 aet 000 e 2/4</text>
</g>
</svg>
</body></html>
